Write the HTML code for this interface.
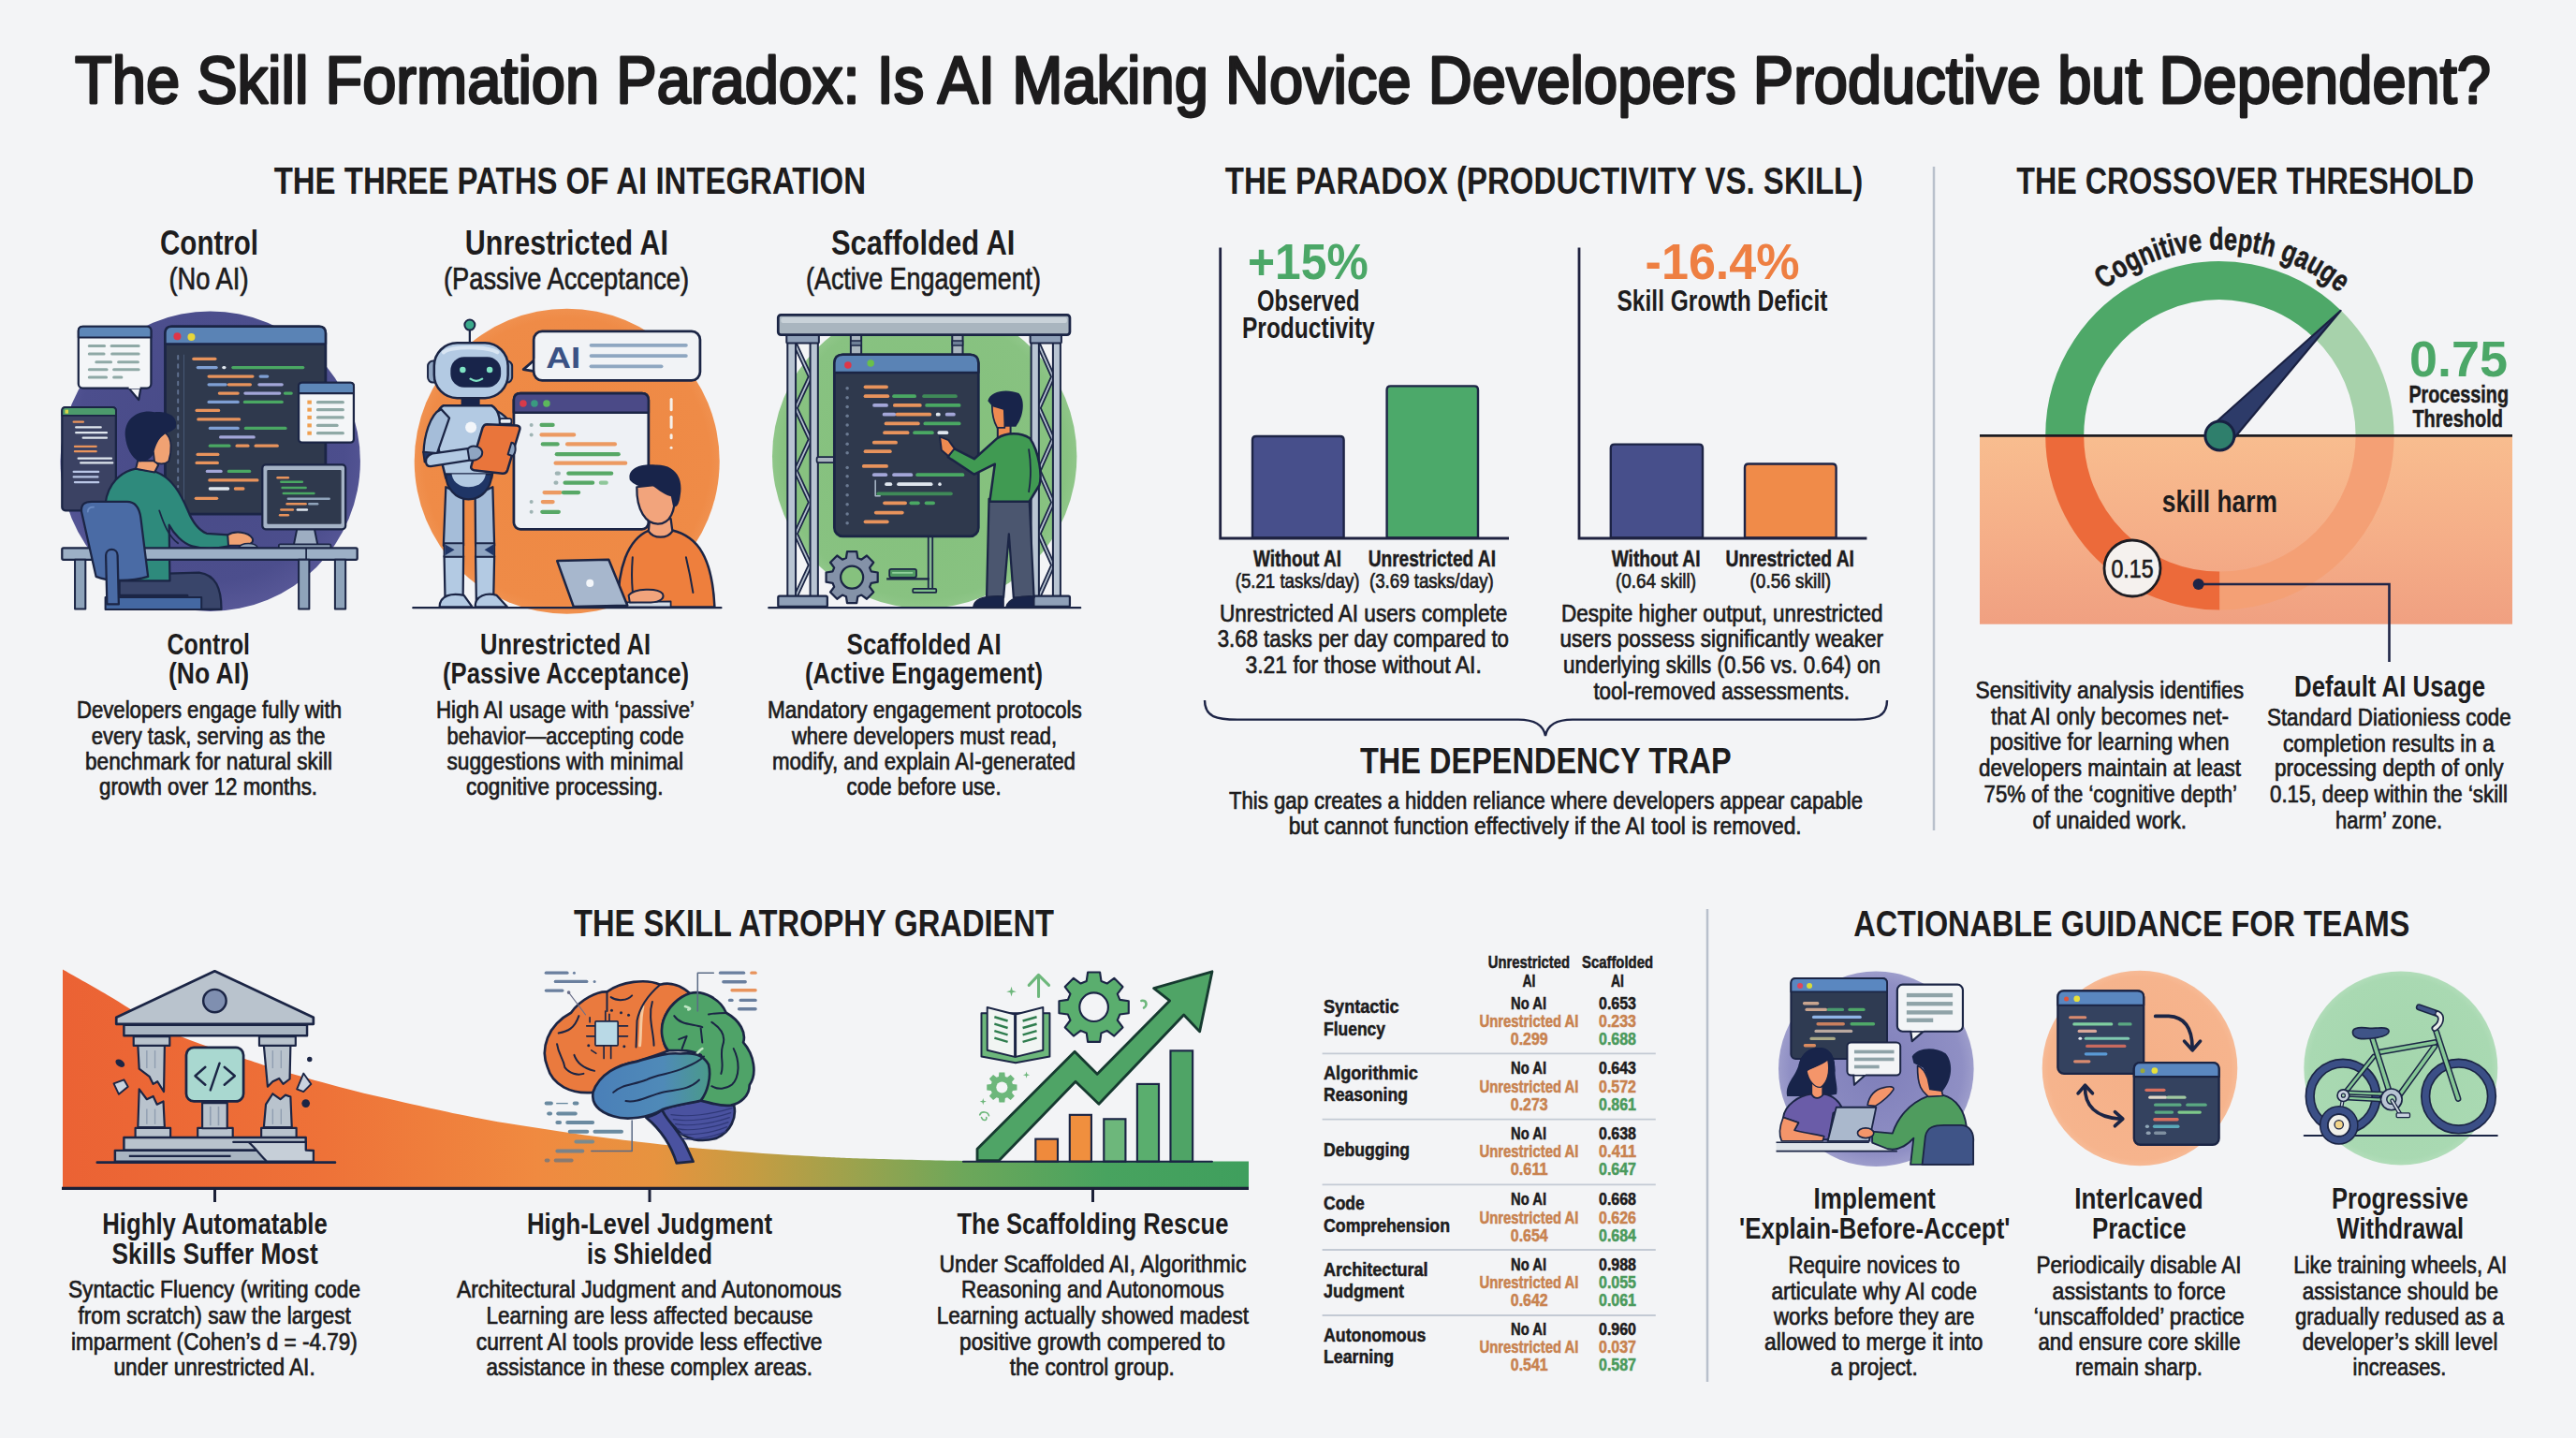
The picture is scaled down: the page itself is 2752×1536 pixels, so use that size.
<!DOCTYPE html>
<html lang="en"><head><meta charset="utf-8"><title>The Skill Formation Paradox</title>
<style>
html,body{margin:0;padding:0;background:#f3f4f6;}
body{width:2752px;height:1536px;overflow:hidden;}
svg{display:block;}
svg text{font-family:"Liberation Sans",sans-serif;}
</style></head><body>
<svg width="2752" height="1536" viewBox="0 0 2752 1536">
<rect width="2752" height="1536" fill="#f3f4f6"/>
<defs>
<linearGradient id="gWedge" gradientUnits="userSpaceOnUse" x1="67" y1="0" x2="1334" y2="0">
<stop offset="0" stop-color="#eb6234"/><stop offset="0.22" stop-color="#ee7238"/><stop offset="0.40" stop-color="#f08a40"/>
<stop offset="0.50" stop-color="#e7933f"/><stop offset="0.58" stop-color="#c69c42"/><stop offset="0.66" stop-color="#9fa24c"/>
<stop offset="0.76" stop-color="#6da75a"/><stop offset="0.88" stop-color="#48a35f"/><stop offset="1" stop-color="#3f9f5d"/>
</linearGradient>
<linearGradient id="gHarm" x1="0" y1="0" x2="0" y2="1">
<stop offset="0" stop-color="#f8bd8f"/><stop offset="0.55" stop-color="#f5ae88"/><stop offset="1" stop-color="#f0a081"/>
</linearGradient>
<radialGradient id="gC1" cx="0.5" cy="0.45" r="0.6"><stop offset="0" stop-color="#474a86"/><stop offset="0.75" stop-color="#4c4e8d"/><stop offset="1" stop-color="#5d5c9c"/></radialGradient>
<radialGradient id="gC2" cx="0.5" cy="0.5" r="0.55"><stop offset="0" stop-color="#ee8843"/><stop offset="0.85" stop-color="#ef8b47"/><stop offset="1" stop-color="#f29a5c"/></radialGradient>
<radialGradient id="gC3" cx="0.5" cy="0.5" r="0.55"><stop offset="0" stop-color="#83c07b"/><stop offset="0.85" stop-color="#88c281"/><stop offset="1" stop-color="#9bcd95"/></radialGradient>
<radialGradient id="gI1" cx="0.5" cy="0.5" r="0.55"><stop offset="0" stop-color="#7f7fba"/><stop offset="0.8" stop-color="#8f8fc4"/><stop offset="1" stop-color="#a9a9d2"/></radialGradient>
<radialGradient id="gI2" cx="0.5" cy="0.5" r="0.55"><stop offset="0" stop-color="#f5b088"/><stop offset="0.85" stop-color="#f6b48d"/><stop offset="1" stop-color="#f8c4a4"/></radialGradient>
<radialGradient id="gI3" cx="0.5" cy="0.5" r="0.55"><stop offset="0" stop-color="#a4d6ad"/><stop offset="0.85" stop-color="#a9d9b2"/><stop offset="1" stop-color="#bfe3c5"/></radialGradient>
<linearGradient id="gBlue" x1="0" y1="0" x2="1" y2="0"><stop offset="0" stop-color="#4a7fb8"/><stop offset="0.6" stop-color="#4f8ab8"/><stop offset="1" stop-color="#4a9a8a"/></linearGradient>
</defs>
<line x1="2066.0" y1="178.0" x2="2066.0" y2="887.0" stroke="#b9c0cc" stroke-width="2.5" stroke-linecap="butt"/>
<line x1="1824.0" y1="971.0" x2="1824.0" y2="1476.0" stroke="#b9c0cc" stroke-width="2.5" stroke-linecap="butt"/>
<path d="M67.0,1035.6 C75.0,1040.2 99.0,1053.6 115.0,1063.0 C131.0,1072.4 148.3,1084.0 163.0,1092.0 C177.7,1100.0 184.8,1103.9 203.0,1111.0 C221.2,1118.1 253.8,1128.5 272.0,1134.5 C290.2,1140.5 294.0,1141.8 312.0,1147.0 C330.0,1152.2 357.4,1159.8 380.0,1165.5 C402.6,1171.2 429.4,1176.9 447.6,1181.0 C465.8,1185.1 473.6,1186.9 489.0,1190.0 C504.4,1193.1 521.8,1196.5 540.0,1199.6 C558.2,1202.7 579.3,1205.8 598.0,1208.5 C616.7,1211.2 633.9,1213.7 652.0,1216.0 C670.1,1218.3 691.8,1220.8 706.5,1222.5 C721.2,1224.2 721.9,1224.4 740.0,1226.0 C758.1,1227.6 792.7,1230.4 815.0,1232.0 C837.3,1233.6 855.8,1234.5 874.0,1235.4 C892.2,1236.3 898.2,1236.7 924.0,1237.5 C949.8,1238.3 996.3,1239.5 1029.0,1240.0 C1061.7,1240.5 1069.2,1240.3 1120.0,1240.4 C1170.8,1240.5 1298.3,1240.4 1334.0,1240.4 L1334,1269 L67,1269 Z" fill="url(#gWedge)"/>
<line x1="66.0" y1="1269.3" x2="1334.0" y2="1269.3" stroke="#1b2038" stroke-width="3.2" stroke-linecap="butt"/>
<line x1="229.5" y1="1269.0" x2="229.5" y2="1284.0" stroke="#1b2038" stroke-width="3" stroke-linecap="butt"/>
<line x1="694.0" y1="1269.0" x2="694.0" y2="1284.0" stroke="#1b2038" stroke-width="3" stroke-linecap="butt"/>
<line x1="1167.5" y1="1269.0" x2="1167.5" y2="1284.0" stroke="#1b2038" stroke-width="3" stroke-linecap="butt"/>
<circle cx="224.7" cy="492.7" r="160.2" fill="url(#gC1)"/>
<g transform="translate(40,320) scale(0.25031)" stroke-linejoin="round" stroke-linecap="round">
<rect x="105.0" y="460.0" width="230.0" height="440.0" rx="14" fill="#3b4263" stroke="#1b2545" stroke-width="9"/>
<path d="M105,495 L105,474 Q105,460 119,460 L321,460 Q335,460 335,474 L335,495 Z" fill="#4c9a6c" stroke="#1b2545" stroke-width="7"/>
<rect x="118.0" y="470.0" width="14.0" height="16.0" fill="#d8d84a"/>
<rect x="150.0" y="517.5" width="50.0" height="9" rx="4.5" fill="#e8935c"/>
<rect x="160.0" y="540.5" width="115.0" height="9" rx="4.5" fill="#dfe6ee"/>
<rect x="160.0" y="563.5" width="140.0" height="9" rx="4.5" fill="#dfe6ee"/>
<rect x="190.0" y="585.5" width="110.0" height="9" rx="4.5" fill="#dfe6ee"/>
<rect x="155.0" y="622.5" width="100.0" height="9" rx="4.5" fill="#e8935c"/>
<rect x="155.0" y="643.5" width="100.0" height="9" rx="4.5" fill="#e8935c"/>
<rect x="170.0" y="673.5" width="150.0" height="9" rx="4.5" fill="#dfe6ee"/>
<rect x="180.0" y="692.5" width="145.0" height="9" rx="4.5" fill="#dfe6ee"/>
<rect x="150.0" y="730.5" width="115.0" height="9" rx="4.5" fill="#b9c6e6"/>
<rect x="150.0" y="752.5" width="112.0" height="9" rx="4.5" fill="#b9c6e6"/>
<rect x="155.0" y="775.5" width="110.0" height="9" rx="4.5" fill="#b9c6e6"/>
<polygon points="385.0,372.0 432.0,428.0 442.0,372.0" fill="#f4f6f8" stroke="#1b2545" stroke-width="9" stroke-linejoin="round"/>
<rect x="175.0" y="115.0" width="310.0" height="263.0" rx="18" fill="#f4f6f8" stroke="#1b2545" stroke-width="9"/>
<path d="M175,162 L175,133 Q175,115 193,115 L467,115 Q485,115 485,133 L485,162 Z" fill="#5d87b8" stroke="#1b2545" stroke-width="8"/>
<rect x="390.0" y="366.0" width="48.0" height="14.0" fill="#f4f6f8"/>
<rect x="215.0" y="192.0" width="77.0" height="12" rx="6.0" fill="#8fa9a6"/>
<rect x="310.0" y="192.0" width="128.0" height="12" rx="6.0" fill="#8fa9a6"/>
<rect x="215.0" y="226.0" width="75.0" height="12" rx="6.0" fill="#8fa9a6"/>
<rect x="312.0" y="226.0" width="126.0" height="12" rx="6.0" fill="#8fa9a6"/>
<rect x="245.0" y="261.0" width="75.0" height="12" rx="6.0" fill="#8fa9a6"/>
<rect x="340.0" y="261.0" width="95.0" height="12" rx="6.0" fill="#8fa9a6"/>
<rect x="215.0" y="293.0" width="87.0" height="12" rx="6.0" fill="#8fa9a6"/>
<rect x="320.0" y="293.0" width="118.0" height="12" rx="6.0" fill="#8fa9a6"/>
<rect x="215.0" y="326.0" width="85.0" height="12" rx="6.0" fill="#8fa9a6"/>
<rect x="320.0" y="326.0" width="45.0" height="12" rx="6.0" fill="#8fa9a6"/>
<rect x="545.0" y="115.0" width="685.0" height="800.0" rx="28" fill="#2f394d" stroke="#1b2545" stroke-width="11"/>
<path d="M545,190 L545,143 Q545,115 573,115 L1202,115 Q1230,115 1230,143 L1230,190 Z" fill="#5a83b5" stroke="#1b2545" stroke-width="10"/>
<circle cx="597.0" cy="157.0" r="16.0" fill="#df3648"/>
<circle cx="657.0" cy="160.0" r="16.0" fill="#e6d63a"/>
<line x1="600.0" y1="240.0" x2="600.0" y2="800.0" stroke="#5f6f8e" stroke-width="8" stroke-linecap="round" stroke-dasharray="14 23"/>
<line x1="625.0" y1="235.0" x2="625.0" y2="860.0" stroke="#4a5a78" stroke-width="4" stroke-linecap="butt"/>
<rect x="660.0" y="246.5" width="105.0" height="13" rx="6.5" fill="#e8935c"/>
<rect x="678.0" y="283.5" width="92.0" height="13" rx="6.5" fill="#7f9fd3"/>
<rect x="788.0" y="283.5" width="17.0" height="13" rx="6.5" fill="#dfe6ee"/>
<rect x="828.0" y="283.5" width="312.0" height="13" rx="6.5" fill="#4aa863"/>
<rect x="725.0" y="321.5" width="200.0" height="13" rx="6.5" fill="#e8935c"/>
<rect x="945.0" y="321.5" width="43.0" height="13" rx="6.5" fill="#7f9fd3"/>
<rect x="725.0" y="356.5" width="85.0" height="13" rx="6.5" fill="#7f9fd3"/>
<rect x="810.0" y="356.5" width="105.0" height="13" rx="6.5" fill="#e8935c"/>
<rect x="940.0" y="356.5" width="110.0" height="13" rx="6.5" fill="#a3a6d8"/>
<rect x="770.0" y="393.5" width="92.0" height="13" rx="6.5" fill="#e8935c"/>
<rect x="880.0" y="393.5" width="160.0" height="13" rx="6.5" fill="#a3a6d8"/>
<rect x="1050.0" y="393.5" width="40.0" height="13" rx="6.5" fill="#4aa863"/>
<rect x="725.0" y="430.5" width="137.0" height="13" rx="6.5" fill="#7f9fd3"/>
<rect x="878.0" y="430.5" width="172.0" height="13" rx="6.5" fill="#4aa863"/>
<rect x="673.0" y="466.5" width="107.0" height="13" rx="6.5" fill="#e8935c"/>
<rect x="680.0" y="504.5" width="188.0" height="13" rx="6.5" fill="#e8935c"/>
<rect x="730.0" y="542.5" width="132.0" height="13" rx="6.5" fill="#7f9fd3"/>
<rect x="882.0" y="542.5" width="183.0" height="13" rx="6.5" fill="#4aa863"/>
<rect x="775.0" y="580.5" width="155.0" height="13" rx="6.5" fill="#a3a6d8"/>
<rect x="730.0" y="617.5" width="95.0" height="13" rx="6.5" fill="#4aa863"/>
<rect x="845.0" y="617.5" width="60.0" height="13" rx="6.5" fill="#e8935c"/>
<rect x="925.0" y="617.5" width="105.0" height="13" rx="6.5" fill="#e8935c"/>
<rect x="677.0" y="654.5" width="100.0" height="13" rx="6.5" fill="#e8935c"/>
<rect x="673.0" y="690.5" width="102.0" height="13" rx="6.5" fill="#e8935c"/>
<rect x="718.0" y="726.5" width="72.0" height="13" rx="6.5" fill="#a3a6d8"/>
<rect x="810.0" y="726.5" width="102.0" height="13" rx="6.5" fill="#4aa863"/>
<rect x="728.0" y="764.5" width="217.0" height="13" rx="6.5" fill="#e8935c"/>
<rect x="730.0" y="800.5" width="90.0" height="13" rx="6.5" fill="#dfe6ee"/>
<rect x="838.0" y="800.5" width="47.0" height="13" rx="6.5" fill="#e8935c"/>
<rect x="670.0" y="841.5" width="102.0" height="13" rx="6.5" fill="#e8935c"/>
<rect x="1115.0" y="355.0" width="235.0" height="255.0" rx="14" fill="#f4f6f8" stroke="#1b2545" stroke-width="9"/>
<path d="M1115,400 L1115,369 Q1115,355 1129,355 L1336,355 Q1350,355 1350,369 L1350,400 Z" fill="#5d87b8" stroke="#1b2545" stroke-width="8"/>
<rect x="1152.0" y="430.0" width="18.0" height="16.0" fill="#f0a050"/>
<rect x="1190.0" y="431.5" width="120.0" height="13" rx="6.5" fill="#8fa9a6"/>
<rect x="1152.0" y="462.0" width="18.0" height="16.0" fill="#f0a050"/>
<rect x="1190.0" y="463.5" width="120.0" height="13" rx="6.5" fill="#8fa9a6"/>
<rect x="1152.0" y="495.0" width="18.0" height="16.0" fill="#f0a050"/>
<rect x="1190.0" y="496.5" width="120.0" height="13" rx="6.5" fill="#8fa9a6"/>
<rect x="1152.0" y="529.0" width="18.0" height="16.0" fill="#f0a050"/>
<rect x="1190.0" y="530.5" width="95.0" height="13" rx="6.5" fill="#8fa9a6"/>
<rect x="1152.0" y="562.0" width="18.0" height="16.0" fill="#f0a050"/>
<rect x="1190.0" y="563.5" width="120.0" height="13" rx="6.5" fill="#8fa9a6"/>
<polygon points="1108.0,978.0 1182.0,978.0 1197.0,1052.0 1093.0,1052.0" fill="#9dadc2" stroke="#1b2545" stroke-width="8" stroke-linejoin="round"/>
<rect x="1030.0" y="1044.0" width="222.0" height="18.0" rx="6" fill="#8ea0b6" stroke="#1b2545" stroke-width="7"/>
<rect x="960.0" y="705.0" width="355.0" height="275.0" rx="14" fill="#a5b3c6" stroke="#1b2545" stroke-width="9"/>
<rect x="980.0" y="727.0" width="317.0" height="231.0" rx="4" fill="#2f394d"/>
<rect x="1020.0" y="755.0" width="55.0" height="10" rx="5.0" fill="#e8935c"/>
<rect x="1035.0" y="773.0" width="100.0" height="10" rx="5.0" fill="#4aa863"/>
<rect x="1040.0" y="798.0" width="110.0" height="10" rx="5.0" fill="#4aa863"/>
<rect x="1045.0" y="822.0" width="140.0" height="10" rx="5.0" fill="#4aa863"/>
<rect x="1065.0" y="845.0" width="185.0" height="10" rx="5.0" fill="#8fa3ba"/>
<rect x="1060.0" y="867.0" width="90.0" height="10" rx="5.0" fill="#e8935c"/>
<rect x="1155.0" y="867.0" width="45.0" height="10" rx="5.0" fill="#8fa3ba"/>
<rect x="1035.0" y="892.0" width="60.0" height="10" rx="5.0" fill="#e8935c"/>
<rect x="1105.0" y="892.0" width="50.0" height="10" rx="5.0" fill="#dfe6ee"/>
<rect x="1030.0" y="915.0" width="45.0" height="10" rx="5.0" fill="#e8935c"/>
<path d="M350,1175 L690,1165 C760,1175 785,1230 785,1322 L645,1322 L640,1262 L350,1262 Z" fill="#39456a" stroke="#1b2545" stroke-width="9"/>
<path d="M290,870 C300,785 355,735 420,722 L505,735 C575,760 612,830 642,900 C662,950 690,985 722,998 L815,1004 L818,1052 C760,1064 700,1064 660,1052 C620,1040 582,1000 562,962 L565,1200 L300,1200 Z" fill="#2e8a7c" stroke="#1b2545" stroke-width="9"/>
<path d="M520,900 C540,960 560,1010 600,1040" fill="none" stroke="#1b2545" stroke-width="7"/>
<path d="M812,1004 C840,985 900,990 918,1020 C925,1040 900,1050 870,1050 L815,1050 Z" fill="#f0a273" stroke="#1b2545" stroke-width="8"/>
<path d="M860,1058 C870,1035 930,1035 940,1058 Z" fill="#8ea0b6" stroke="#1b2545" stroke-width="6"/>
<polygon points="428.0,688.0 502.0,688.0 516.0,706.0 500.0,737.0 420.0,722.0" fill="#f0a273" stroke="#1b2545" stroke-width="8" stroke-linejoin="round"/>
<path d="M545,568 C578,590 572,650 560,690 C540,706 515,702 500,692 L495,652 C478,642 484,610 500,610 C510,600 520,585 545,568 Z" fill="#f0a273" stroke="#1b2545" stroke-width="7"/>
<path d="M375,585 C368,508 430,468 500,480 C560,476 603,500 590,547 C575,562 560,566 545,570 C520,590 510,610 500,640 C495,672 470,692 435,692 C400,672 380,632 375,585 Z" fill="#18244a"/>
<rect x="105.0" y="1060.0" width="1260.0" height="50.0" rx="6" fill="#9cb0c6" stroke="#1b2545" stroke-width="9"/>
<line x1="1147.0" y1="1062.0" x2="1147.0" y2="1108.0" stroke="#1b2545" stroke-width="7" stroke-linecap="butt"/>
<rect x="160.0" y="1110.0" width="45.0" height="210.0" fill="#8ea3ba" stroke="#1b2545" stroke-width="8"/>
<rect x="1115.0" y="1110.0" width="45.0" height="210.0" fill="#8ea3ba" stroke="#1b2545" stroke-width="8"/>
<rect x="1270.0" y="1110.0" width="45.0" height="210.0" fill="#8ea3ba" stroke="#1b2545" stroke-width="8"/>
<path d="M188,905 C185,872 202,862 232,862 L382,862 C422,862 436,892 441,932 L472,1182 C402,1204 300,1204 250,1182 Z" fill="#4a6ba5" stroke="#1b2545" stroke-width="9"/>
<path d="M215,905 C215,890 225,885 240,885" fill="none" stroke="#6b8bc2" stroke-width="7"/>
<path d="M290,1270 L700,1270 L700,1322 L290,1322 Z" fill="#4468a2" stroke="#1b2545" stroke-width="8"/>
<path d="M292,1092 C292,1058 342,1058 342,1092 L347,1300 L297,1300 Z" fill="#4a6ba5" stroke="#1b2545" stroke-width="9"/>
</g>
<circle cx="605.7" cy="492.7" r="163.0" fill="url(#gC2)"/>
<g transform="translate(420,320) scale(0.25031)" stroke-linejoin="round" stroke-linecap="round">
<line x1="1187.0" y1="425.0" x2="1187.0" y2="470.0" stroke="#f6f1ea" stroke-width="12" stroke-linecap="round"/>
<line x1="1187.0" y1="500.0" x2="1187.0" y2="545.0" stroke="#f6f1ea" stroke-width="12" stroke-linecap="round"/>
<line x1="1187.0" y1="578.0" x2="1187.0" y2="590.0" stroke="#f6f1ea" stroke-width="12" stroke-linecap="round"/>
<circle cx="1187.0" cy="632.0" r="6.0" fill="#f6f1ea"/>
<polygon points="612.0,250.0 556.0,298.0 615.0,308.0" fill="#f1f3f6" stroke="#1b2545" stroke-width="11" stroke-linejoin="round"/>
<rect x="600.0" y="135.0" width="710.0" height="210.0" rx="36" fill="#f1f3f6" stroke="#1b2545" stroke-width="11"/>
<rect x="606.0" y="252.0" width="20.0" height="52.0" fill="#f1f3f6"/>
<text x="652" y="290" font-size="128" font-weight="bold" fill="#3b5284" textLength="148" lengthAdjust="spacingAndGlyphs">AI</text>
<line x1="845.0" y1="195.0" x2="1250.0" y2="195.0" stroke="#8fa7c1" stroke-width="15" stroke-linecap="round"/>
<line x1="845.0" y1="240.0" x2="1250.0" y2="240.0" stroke="#8fa7c1" stroke-width="15" stroke-linecap="round"/>
<line x1="845.0" y1="285.0" x2="1145.0" y2="285.0" stroke="#8fa7c1" stroke-width="15" stroke-linecap="round"/>
<rect x="515.0" y="400.0" width="575.0" height="580.0" rx="28" fill="#eef1f5" stroke="#1b2545" stroke-width="11"/>
<path d="M515,482 L515,428 Q515,400 543,400 L1062,400 Q1090,400 1090,428 L1090,482 Z" fill="#4b4a87" stroke="#1b2545" stroke-width="10"/>
<circle cx="555.0" cy="443.0" r="15.0" fill="#d93a4a"/>
<circle cx="603.0" cy="443.0" r="15.0" fill="#3a9a80"/>
<circle cx="655.0" cy="443.0" r="15.0" fill="#5cb85c"/>
<rect x="625.0" y="526.5" width="65.0" height="17" rx="8.5" fill="#57a866"/>
<rect x="625.0" y="568.5" width="155.0" height="17" rx="8.5" fill="#ec9a62"/>
<rect x="630.0" y="608.5" width="80.0" height="17" rx="8.5" fill="#57a866"/>
<rect x="735.0" y="608.5" width="220.0" height="17" rx="8.5" fill="#ec9a62"/>
<rect x="690.0" y="651.5" width="280.0" height="17" rx="8.5" fill="#57a866"/>
<rect x="685.0" y="689.5" width="315.0" height="17" rx="8.5" fill="#ec9a62"/>
<rect x="690.0" y="733.5" width="25.0" height="17" rx="8.5" fill="#9fb4b4"/>
<rect x="740.0" y="733.5" width="200.0" height="17" rx="8.5" fill="#57a866"/>
<rect x="685.0" y="773.5" width="20.0" height="17" rx="8.5" fill="#9fb4b4"/>
<rect x="725.0" y="773.5" width="135.0" height="17" rx="8.5" fill="#57a866"/>
<rect x="878.0" y="773.5" width="40.0" height="17" rx="8.5" fill="#8fc79a"/>
<rect x="637.0" y="814.5" width="85.0" height="17" rx="8.5" fill="#ec9a62"/>
<rect x="718.0" y="814.5" width="82.0" height="17" rx="8.5" fill="#57a866"/>
<rect x="630.0" y="854.5" width="60.0" height="17" rx="8.5" fill="#ec9a62"/>
<rect x="628.0" y="897.5" width="87.0" height="17" rx="8.5" fill="#57a866"/>
<circle cx="590.0" cy="535.0" r="8.0" fill="#9fb4b4"/>
<circle cx="590.0" cy="577.0" r="8.0" fill="#9fb4b4"/>
<circle cx="590.0" cy="863.0" r="8.0" fill="#9fb4b4"/>
<circle cx="590.0" cy="906.0" r="8.0" fill="#9fb4b4"/>
<polygon points="225.0,800.0 300.0,835.0 300.0,1050.0 215.0,1050.0" fill="#a5bdd9" stroke="#1b2545" stroke-width="9" stroke-linejoin="round"/>
<polygon points="350.0,835.0 425.0,800.0 432.0,1050.0 352.0,1050.0" fill="#a5bdd9" stroke="#1b2545" stroke-width="9" stroke-linejoin="round"/>
<polygon points="218.0,1095.0 300.0,1095.0 298.0,1290.0 222.0,1290.0" fill="#b3cae3" stroke="#1b2545" stroke-width="9" stroke-linejoin="round"/>
<polygon points="352.0,1095.0 432.0,1095.0 428.0,1290.0 355.0,1290.0" fill="#b3cae3" stroke="#1b2545" stroke-width="9" stroke-linejoin="round"/>
<polygon points="218.0,1040.0 300.0,1040.0 300.0,1098.0 218.0,1098.0" fill="#8fa5c2" stroke="#1b2545" stroke-width="8" stroke-linejoin="round"/>
<polygon points="352.0,1040.0 432.0,1040.0 432.0,1098.0 352.0,1098.0" fill="#8fa5c2" stroke="#1b2545" stroke-width="8" stroke-linejoin="round"/>
<polygon points="222.0,1045.0 262.0,1068.0 222.0,1092.0" fill="#1f3566"/>
<polygon points="428.0,1045.0 390.0,1068.0 428.0,1092.0" fill="#1f3566"/>
<path d="M198,1312 C198,1262 250,1250 302,1262 L338,1312 Z" fill="#b3cae3" stroke="#1b2545" stroke-width="9"/>
<path d="M350,1312 C350,1262 400,1250 442,1262 L488,1312 Z" fill="#b3cae3" stroke="#1b2545" stroke-width="9"/>
<path d="M425,470 C470,480 500,520 520,560 L470,600 L430,540 Z" fill="#a5bdd9" stroke="#1b2545" stroke-width="9"/>
<path d="M215,452 C180,472 173,522 185,602 L225,762 L420,762 L450,602 C462,522 457,472 420,452 Z" fill="#b3cae3" stroke="#1b2545" stroke-width="10"/>
<path d="M225,745 L420,745 C420,802 380,852 322,852 C265,852 225,802 225,745 Z" fill="#1f3566" stroke="#1b2545" stroke-width="9"/>
<path d="M250,745 L395,745 C390,780 360,800 322,800 C285,800 255,780 250,745 Z" fill="#b3cae3"/>
<circle cx="332.0" cy="545.0" r="24.0" fill="#f3f6fa"/>
<rect x="290.0" y="412.0" width="80.0" height="42.0" fill="#18244a"/>
<path d="M400,532 L528,537 Q545,540 540,556 L488,728 Q482,744 466,742 L345,728 Q328,724 334,708 L382,546 Q388,532 400,532 Z" fill="#e9753b" stroke="#1b2545" stroke-width="10"/>
<rect x="455.0" y="508.0" width="50.0" height="22.0" rx="8" fill="#e8eef5" stroke="#1b2545" stroke-width="7"/>
<path d="M205,468 C155,488 132,590 130,652 L185,664 L240,505 Z" fill="#a5bdd9" stroke="#1b2545" stroke-width="9"/>
<polygon points="128.0,650.0 188.0,655.0 184.0,700.0 134.0,694.0" fill="#1f3566" stroke="#1b2545" stroke-width="7" stroke-linejoin="round"/>
<path d="M140,690 C140,668 160,655 185,655 L345,632 L352,682 L160,712 C145,712 140,702 140,690 Z" fill="#b3cae3" stroke="#1b2545" stroke-width="9"/>
<path d="M318,640 C330,618 372,622 380,648 C384,675 350,692 325,684 Z" fill="#8fa5c2" stroke="#1b2545" stroke-width="8"/>
<path d="M505,610 C525,612 528,650 510,668 L490,660 Z" fill="#8fa5c2" stroke="#1b2545" stroke-width="8"/>
<line x1="327.0" y1="190.0" x2="327.0" y2="128.0" stroke="#1b2545" stroke-width="9" stroke-linecap="butt"/>
<circle cx="327.0" cy="108.0" r="22.0" fill="#3aa98b" stroke="#1b2545" stroke-width="8"/>
<rect x="148.0" y="262.0" width="58.0" height="92.0" rx="22" fill="#8fa5c2" stroke="#1b2545" stroke-width="8"/>
<rect x="458.0" y="262.0" width="50.0" height="92.0" rx="22" fill="#8fa5c2" stroke="#1b2545" stroke-width="8"/>
<rect x="175.0" y="185.0" width="315.0" height="235.0" rx="98" fill="#b3cae3" stroke="#1b2545" stroke-width="10"/>
<path d="M215,225 C250,198 400,198 445,225" fill="none" stroke="#d8e5f3" stroke-width="16"/>
<rect x="245.0" y="245.0" width="215.0" height="130.0" rx="58" fill="#18244a"/>
<circle cx="297.0" cy="300.0" r="13.0" fill="#7fe3c4"/>
<circle cx="412.0" cy="300.0" r="13.0" fill="#7fe3c4"/>
<path d="M330,338 Q355,356 380,338" fill="none" stroke="#7fe3c4" stroke-width="9"/>
<path d="M960,1312 C958,1150 1000,1022 1092,985 L1192,985 C1302,1012 1362,1102 1372,1312 Z" fill="#ee7f3d" stroke="#1b2545" stroke-width="10"/>
<path d="M1022,1100 C1018,1150 1018,1200 1022,1245" fill="none" stroke="#1b2545" stroke-width="8"/>
<path d="M1250,1100 C1262,1150 1272,1200 1280,1250" fill="none" stroke="#1b2545" stroke-width="8"/>
<path d="M1095,935 L1185,935 L1192,988 C1170,1022 1112,1022 1090,988 Z" fill="#f2a47c" stroke="#1b2545" stroke-width="9"/>
<path d="M1040,800 C1038,900 1080,957 1130,957 C1182,957 1207,900 1200,828 L1150,788 Z" fill="#f2a47c" stroke="#1b2545" stroke-width="9"/>
<path d="M1010,770 C998,718 1060,698 1120,705 C1202,703 1238,760 1226,832 C1222,872 1210,892 1194,880 L1186,840 C1150,830 1120,802 1100,790 C1070,802 1040,802 1010,770 Z" fill="#18244a"/>
<polygon points="998.0,1292.0 1185.0,1288.0 1185.0,1312.0 998.0,1312.0" fill="#d3dbe6" stroke="#1b2545" stroke-width="7" stroke-linejoin="round"/>
<path d="M1005,1262 C1030,1232 1130,1230 1150,1255 C1160,1275 1140,1290 1100,1292 L1010,1292 Z" fill="#f2a47c" stroke="#1b2545" stroke-width="8"/>
<polygon points="700.0,1115.0 920.0,1110.0 1000.0,1305.0 770.0,1310.0" fill="#a7b7cd" stroke="#1b2545" stroke-width="10" stroke-linejoin="round"/>
<circle cx="840.0" cy="1210.0" r="16.0" fill="#f3f6fa"/>
<line x1="85.0" y1="1315.0" x2="1400.0" y2="1315.0" stroke="#1b2545" stroke-width="9" stroke-linecap="round"/>
</g>
<clipPath id="cp3"><rect x="800" y="357" width="400" height="292"/></clipPath>
<circle cx="987.7" cy="487.2" r="162.7" fill="url(#gC3)" clip-path="url(#cp3)"/>
<g transform="translate(800,320) scale(0.25031)" stroke-linejoin="round" stroke-linecap="round">
<path d="M200,195 L262,329 L200,463 L262,597 L200,731 L262,865 L200,999 L262,1133 L200,1267" fill="none" stroke="#1b2545" stroke-width="21"/>
<path d="M200,195 L262,329 L200,463 L262,597 L200,731 L262,865 L200,999 L262,1133 L200,1267" fill="none" stroke="#b4c0ce" stroke-width="7"/>
<rect x="165.0" y="150.0" width="35.0" height="1120.0" fill="#b9c5d3" stroke="#1b2545" stroke-width="8"/>
<rect x="262.0" y="150.0" width="33.0" height="1120.0" fill="#b9c5d3" stroke="#1b2545" stroke-width="8"/>
<rect x="161.0" y="150.0" width="138.0" height="36.0" rx="4" fill="#8fa0b8" stroke="#1b2545" stroke-width="8"/>
<path d="M1238,195 L1298,329 L1238,463 L1298,597 L1238,731 L1298,865 L1238,999 L1298,1133 L1238,1267" fill="none" stroke="#1b2545" stroke-width="21"/>
<path d="M1238,195 L1298,329 L1238,463 L1298,597 L1238,731 L1298,865 L1238,999 L1298,1133 L1238,1267" fill="none" stroke="#b4c0ce" stroke-width="7"/>
<rect x="1205.0" y="150.0" width="33.0" height="1120.0" fill="#b9c5d3" stroke="#1b2545" stroke-width="8"/>
<rect x="1298.0" y="150.0" width="32.0" height="1120.0" fill="#b9c5d3" stroke="#1b2545" stroke-width="8"/>
<rect x="1201.0" y="150.0" width="133.0" height="36.0" rx="4" fill="#8fa0b8" stroke="#1b2545" stroke-width="8"/>
<rect x="125.0" y="1265.0" width="210.0" height="45.0" rx="6" fill="#8fa0b8" stroke="#1b2545" stroke-width="9"/>
<rect x="1215.0" y="1265.0" width="155.0" height="45.0" rx="6" fill="#8fa0b8" stroke="#1b2545" stroke-width="9"/>
<rect x="435.0" y="150.0" width="45.0" height="88.0" rx="4" fill="#a9b5bf" stroke="#1b2545" stroke-width="8"/>
<rect x="435.0" y="176.0" width="45.0" height="20.0" fill="#6f8098" stroke="#1b2545" stroke-width="6"/>
<rect x="868.0" y="150.0" width="45.0" height="88.0" rx="4" fill="#a9b5bf" stroke="#1b2545" stroke-width="8"/>
<rect x="868.0" y="176.0" width="45.0" height="20.0" fill="#6f8098" stroke="#1b2545" stroke-width="6"/>
<rect x="125.0" y="65.0" width="1245.0" height="85.0" rx="12" fill="#a9b5bf" stroke="#1b2545" stroke-width="11"/>
<rect x="137.0" y="76.0" width="1221.0" height="24.0" rx="8" fill="#c9d2d9"/>
<rect x="290.0" y="672.0" width="78.0" height="24.0" rx="8" fill="#a9b5bf" stroke="#1b2545" stroke-width="7"/>
<rect x="766.0" y="1000.0" width="18.0" height="236.0" rx="4" fill="#86b892" stroke="#1b2545" stroke-width="7"/>
<circle cx="775.0" cy="995.0" r="14.0" fill="#d0d8e4" stroke="#1b2545" stroke-width="7"/>
<rect x="700.0" y="1234.0" width="100.0" height="16.0" rx="4" fill="#7fc08a" stroke="#1b2545" stroke-width="7"/>
<line x1="588.0" y1="1192.0" x2="770.0" y2="1192.0" stroke="#1b2545" stroke-width="9" stroke-linecap="butt"/>
<rect x="600.0" y="1150.0" width="115.0" height="36.0" rx="8" fill="#4f9a62" stroke="#1b2545" stroke-width="7"/>
<line x1="612.0" y1="1166.0" x2="700.0" y2="1166.0" stroke="#8fd09a" stroke-width="7" stroke-linecap="butt"/>
<rect x="365.0" y="235.0" width="615.0" height="775.0" rx="36" fill="#2f394d" stroke="#1b2545" stroke-width="11"/>
<path d="M365,312 L365,271 Q365,235 401,235 L944,235 Q980,235 980,271 L980,312 Z" fill="#5a83b5" stroke="#1b2545" stroke-width="10"/>
<circle cx="423.0" cy="280.0" r="15.0" fill="#df3648"/>
<circle cx="520.0" cy="272.0" r="15.0" fill="#6ac04a"/>
<rect x="490.0" y="365.5" width="105.0" height="15" rx="7.5" fill="#e8935c"/>
<circle cx="420.0" cy="379.0" r="7.0" fill="#6b7a92"/>
<rect x="490.0" y="404.5" width="110.0" height="15" rx="7.5" fill="#e8935c"/>
<rect x="612.0" y="404.5" width="103.0" height="15" rx="7.5" fill="#4aa863"/>
<rect x="740.0" y="404.5" width="150.0" height="15" rx="7.5" fill="#3f8a58"/>
<circle cx="420.0" cy="418.0" r="7.0" fill="#6b7a92"/>
<rect x="528.0" y="443.5" width="67.0" height="15" rx="7.5" fill="#a3a6d8"/>
<rect x="615.0" y="443.5" width="123.0" height="15" rx="7.5" fill="#e8935c"/>
<rect x="752.0" y="443.5" width="153.0" height="15" rx="7.5" fill="#4aa863"/>
<circle cx="420.0" cy="457.0" r="7.0" fill="#6b7a92"/>
<rect x="570.0" y="482.5" width="58.0" height="15" rx="7.5" fill="#a3a6d8"/>
<rect x="626.0" y="482.5" width="154.0" height="15" rx="7.5" fill="#e8935c"/>
<rect x="798.0" y="482.5" width="20.0" height="15" rx="7.5" fill="#dfe6ee"/>
<rect x="838.0" y="482.5" width="44.0" height="15" rx="7.5" fill="#a3a6d8"/>
<circle cx="420.0" cy="496.0" r="7.0" fill="#6b7a92"/>
<rect x="578.0" y="521.5" width="152.0" height="15" rx="7.5" fill="#e8935c"/>
<rect x="745.0" y="521.5" width="160.0" height="15" rx="7.5" fill="#4aa863"/>
<circle cx="420.0" cy="535.0" r="7.0" fill="#6b7a92"/>
<rect x="572.0" y="560.5" width="113.0" height="15" rx="7.5" fill="#e8935c"/>
<rect x="700.0" y="560.5" width="90.0" height="15" rx="7.5" fill="#4aa863"/>
<rect x="805.0" y="560.5" width="47.0" height="15" rx="7.5" fill="#dfe6ee"/>
<circle cx="420.0" cy="574.0" r="7.0" fill="#6b7a92"/>
<rect x="527.0" y="602.5" width="108.0" height="15" rx="7.5" fill="#e8935c"/>
<circle cx="420.0" cy="616.0" r="7.0" fill="#6b7a92"/>
<rect x="490.0" y="640.5" width="120.0" height="15" rx="7.5" fill="#e8935c"/>
<circle cx="420.0" cy="654.0" r="7.0" fill="#6b7a92"/>
<rect x="483.0" y="703.5" width="112.0" height="15" rx="7.5" fill="#e8935c"/>
<circle cx="420.0" cy="717.0" r="7.0" fill="#6b7a92"/>
<rect x="527.0" y="740.5" width="65.0" height="15" rx="7.5" fill="#a3a6d8"/>
<rect x="612.0" y="740.5" width="88.0" height="15" rx="7.5" fill="#a3a6d8"/>
<rect x="712.0" y="740.5" width="208.0" height="15" rx="7.5" fill="#4aa863"/>
<circle cx="420.0" cy="754.0" r="7.0" fill="#6b7a92"/>
<rect x="580.0" y="780.5" width="32.0" height="15" rx="7.5" fill="#dfe6ee"/>
<rect x="632.0" y="780.5" width="153.0" height="15" rx="7.5" fill="#dfe6ee"/>
<rect x="808.0" y="780.5" width="14.0" height="15" rx="7.5" fill="#dfe6ee"/>
<circle cx="420.0" cy="794.0" r="7.0" fill="#6b7a92"/>
<rect x="545.0" y="820.5" width="325.0" height="15" rx="7.5" fill="#3f8a58"/>
<circle cx="420.0" cy="834.0" r="7.0" fill="#6b7a92"/>
<rect x="572.0" y="860.5" width="103.0" height="15" rx="7.5" fill="#e8935c"/>
<rect x="685.0" y="860.5" width="45.0" height="15" rx="7.5" fill="#4aa863"/>
<rect x="750.0" y="860.5" width="45.0" height="15" rx="7.5" fill="#4aa863"/>
<circle cx="420.0" cy="874.0" r="7.0" fill="#6b7a92"/>
<rect x="535.0" y="901.5" width="127.0" height="15" rx="7.5" fill="#e8935c"/>
<circle cx="420.0" cy="915.0" r="7.0" fill="#6b7a92"/>
<rect x="490.0" y="940.5" width="108.0" height="15" rx="7.5" fill="#e8935c"/>
<circle cx="420.0" cy="954.0" r="7.0" fill="#6b7a92"/>
<path d="M540,772 L540,838 L560,838" fill="none" stroke="#aebccc" stroke-width="6"/>
<path d="M1025,850 L1197,850 L1217,1272 L1130,1272 L1110,1000 L1087,1272 L1015,1272 Z" fill="#4b566f" stroke="#1b2545" stroke-width="9"/>
<path d="M958,1312 C962,1275 1010,1262 1087,1266 L1087,1312 Z" fill="#18244a" stroke="#1b2545" stroke-width="6"/>
<path d="M1098,1312 C1108,1275 1160,1262 1217,1266 L1217,1312 Z" fill="#18244a" stroke="#1b2545" stroke-width="6"/>
<rect x="1062.0" y="525.0" width="55.0" height="70.0" fill="#ee8a50" stroke="#1b2545" stroke-width="8"/>
<path d="M1060,592 C1100,566 1160,566 1200,592 C1240,652 1252,752 1240,792 L1197,862 L1028,862 L1050,702 L962,746 L850,672 L872,634 L962,680 Z" fill="#409a52" stroke="#1b2545" stroke-width="10"/>
<path d="M1195,640 C1205,700 1205,760 1195,820" fill="none" stroke="#1b2545" stroke-width="7"/>
<polygon points="815.0,585.0 852.0,600.0 878.0,636.0 852.0,668.0 822.0,642.0" fill="#ee8a50" stroke="#1b2545" stroke-width="8" stroke-linejoin="round"/>
<path d="M1038,450 L1092,450 L1092,547 L1060,547 C1045,520 1038,490 1038,450 Z" fill="#ee8a50" stroke="#1b2545" stroke-width="7"/>
<path d="M1020,432 C1030,390 1100,378 1152,400 C1182,430 1172,502 1140,542 L1092,542 L1086,470 L1040,456 Z" fill="#18244a"/>
<path d="M522.4,1160.3 L550.1,1164.6 L550.1,1205.4 L522.4,1209.7 L515.7,1225.8 L532.3,1248.4 L503.4,1277.3 L480.8,1260.7 L464.7,1267.4 L460.4,1295.1 L419.6,1295.1 L415.3,1267.4 L399.2,1260.7 L376.6,1277.3 L347.7,1248.4 L364.3,1225.8 L357.6,1209.7 L329.9,1205.4 L329.9,1164.6 L357.6,1160.3 L364.3,1144.2 L347.7,1121.6 L376.6,1092.7 L399.2,1109.3 L415.3,1102.6 L419.6,1074.9 L460.4,1074.9 L464.7,1102.6 L480.8,1109.3 L503.4,1092.7 L532.3,1121.6 L515.7,1144.2 Z" fill="#8492a8" stroke="#1b2545" stroke-width="9"/>
<circle cx="440.0" cy="1185.0" r="48.0" fill="#86c17e" stroke="#1b2545" stroke-width="9"/>
<line x1="85.0" y1="1315.0" x2="1415.0" y2="1315.0" stroke="#1b2545" stroke-width="9" stroke-linecap="round"/>
</g>
<path d="M1338,574.5 L1338,470 Q1338,466 1342,466 L1431.6,466 Q1435.6,466 1435.6,470 L1435.6,574.5 Z" fill="#474f8b" stroke="#1d2446" stroke-width="2.4"/>
<path d="M1481.6,574.5 L1481.6,416.4 Q1481.6,412.4 1485.6,412.4 L1575,412.4 Q1579,412.4 1579,416.4 L1579,574.5 Z" fill="#4ca96a" stroke="#1d2446" stroke-width="2.4"/>
<path d="M1303.7,264.5 L1303.7,575 L1612,575" fill="none" stroke="#1f2240" stroke-width="2.8"/>
<path d="M1720.8,574.5 L1720.8,478.6 Q1720.8,474.6 1724.8,474.6 L1815,474.6 Q1819,474.6 1819,478.6 L1819,574.5 Z" fill="#474f8b" stroke="#1d2446" stroke-width="2.4"/>
<path d="M1864,574.5 L1864,499.5 Q1864,495.5 1868,495.5 L1957.6,495.5 Q1961.6,495.5 1961.6,499.5 L1961.6,574.5 Z" fill="#f08b49" stroke="#1d2446" stroke-width="2.4"/>
<path d="M1687,264.5 L1687,575 L1994.4,575" fill="none" stroke="#1f2240" stroke-width="2.8"/>
<path d="M1287,748 C1287,766 1300,768.6 1322,768.6 L1622,768.6 C1640,768.6 1649,775 1651,786 C1653,775 1662,768.6 1680,768.6 L1982,768.6 C2004,768.6 2016,766 2016,748" fill="none" stroke="#1d2446" stroke-width="2.4"/>
<rect x="2115.0" y="465.4" width="569.0" height="201.3" fill="url(#gHarm)"/>
<path d="M2205.7,465.4 A165.7,165.7 0 0 1 2486.5,346.2" fill="none" stroke="#4ea868" stroke-width="41"/>
<path d="M2486.1,345.8 A165.7,165.7 0 0 1 2537.1,465.4" fill="none" stroke="#a7d2ab" stroke-width="41"/>
<path d="M2205.7,465.4 A165.7,165.7 0 0 0 2371.4,631.1" fill="none" stroke="#ec6a3a" stroke-width="41"/>
<path d="M2371.4,631.1 A165.7,165.7 0 0 0 2537.1,465.4" fill="none" stroke="#f4a075" stroke-width="41"/>
<line x1="2115.0" y1="465.4" x2="2684.0" y2="465.4" stroke="#1d1c22" stroke-width="2.8" stroke-linecap="butt"/>
<polygon points="2381.1,474.8 2500.6,331.8 2361.7,456.0" fill="#2d3b69" stroke="#1a2142" stroke-width="2.2" stroke-linejoin="round"/>
<circle cx="2371.4" cy="465.4" r="15.5" fill="#2f7f6c" stroke="#172142" stroke-width="3"/>
<circle cx="2278.0" cy="607.0" r="30.0" fill="#f5f1ee" stroke="#1d1c22" stroke-width="2.8"/>
<circle cx="2348.7" cy="624.0" r="6.0" fill="#1f2547"/>
<path d="M2348.7,624 L2552.5,624 L2552.5,707" fill="none" stroke="#1f2547" stroke-width="2.6"/>
<path id="gArc" d="M2199.1,365.9 A199,199 0 0 1 2543.7,365.9" fill="none"/>
<text font-size="33" font-weight="bold" fill="#1d1c1d" stroke="#1d1c1d" stroke-width="0.6" textLength="272" lengthAdjust="spacingAndGlyphs"><textPath href="#gArc" startOffset="75" textLength="272" lengthAdjust="spacingAndGlyphs">Cognitive depth gauge</textPath></text>
<line x1="1412.6" y1="1125.3" x2="1768.8" y2="1125.3" stroke="#c3cad4" stroke-width="1.8" stroke-linecap="butt"/>
<line x1="1412.6" y1="1195.6" x2="1768.8" y2="1195.6" stroke="#c3cad4" stroke-width="1.8" stroke-linecap="butt"/>
<line x1="1412.6" y1="1265.3" x2="1768.8" y2="1265.3" stroke="#c3cad4" stroke-width="1.8" stroke-linecap="butt"/>
<line x1="1412.6" y1="1335.0" x2="1768.8" y2="1335.0" stroke="#c3cad4" stroke-width="1.8" stroke-linecap="butt"/>
<line x1="1412.6" y1="1405.0" x2="1768.8" y2="1405.0" stroke="#c3cad4" stroke-width="1.8" stroke-linecap="butt"/>
<g transform="translate(40,940) scale(0.27174)" stroke-linejoin="round" stroke-linecap="round">
<line x1="235.0" y1="1110.0" x2="1170.0" y2="1110.0" stroke="#1b2545" stroke-width="10" stroke-linecap="round"/>
<rect x="305.0" y="1063.0" width="780.0" height="44.0" fill="#a9b5c2" stroke="#1b2545" stroke-width="9"/>
<rect x="340.0" y="1012.0" width="715.0" height="50.0" fill="#b9c3cd" stroke="#1b2545" stroke-width="9"/>
<path d="M770,1030 L830,1030 C862,1058 880,1088 902,1106 L1085,1106 L1085,1064 L1055,1062 L1055,1030 Z" fill="#c6cfd8" stroke="#1b2545" stroke-width="8"/>
<line x1="360.0" y1="1085.0" x2="760.0" y2="1085.0" stroke="#1b2545" stroke-width="8" stroke-linecap="butt"/>
<rect x="385.0" y="975.0" width="138.0" height="36.0" fill="#b9c3cd" stroke="#1b2545" stroke-width="8"/>
<rect x="630.0" y="975.0" width="138.0" height="36.0" fill="#b9c3cd" stroke="#1b2545" stroke-width="8"/>
<rect x="880.0" y="975.0" width="138.0" height="36.0" fill="#b9c3cd" stroke="#1b2545" stroke-width="8"/>
<rect x="648.0" y="876.0" width="98.0" height="100.0" fill="#b9c3cd" stroke="#1b2545" stroke-width="8"/>
<line x1="680.0" y1="890.0" x2="680.0" y2="965.0" stroke="#8f9db0" stroke-width="6" stroke-linecap="butt"/>
<line x1="712.0" y1="890.0" x2="712.0" y2="965.0" stroke="#8f9db0" stroke-width="6" stroke-linecap="butt"/>
<rect x="585.0" y="658.0" width="225.0" height="212.0" rx="30" fill="#a9d8d0" stroke="#1b2545" stroke-width="10"/>
<path d="M660,735 L620,770 L660,805 M716,720 L680,826 M735,735 L776,770 L735,805" fill="none" stroke="#1b2545" stroke-width="9"/>
<path d="M395,650 L500,650 L497,832 L472,792 L455,802 L440,772 L400,742 Z" fill="#b9c3cd" stroke="#1b2545" stroke-width="8"/>
<path d="M400,822 L430,862 L455,850 L470,882 L495,870 L500,972 L395,972 Z" fill="#b9c3cd" stroke="#1b2545" stroke-width="8"/>
<path d="M890,650 L995,650 L992,782 L966,802 L950,780 L925,792 L905,812 Z" fill="#b9c3cd" stroke="#1b2545" stroke-width="8"/>
<path d="M898,882 L925,840 L955,862 L975,845 L995,852 L1000,972 L890,972 Z" fill="#b9c3cd" stroke="#1b2545" stroke-width="8"/>
<line x1="430.0" y1="670.0" x2="430.0" y2="740.0" stroke="#8f9db0" stroke-width="5" stroke-linecap="butt"/>
<line x1="430.0" y1="900.0" x2="430.0" y2="960.0" stroke="#8f9db0" stroke-width="5" stroke-linecap="butt"/>
<line x1="462.0" y1="670.0" x2="462.0" y2="740.0" stroke="#8f9db0" stroke-width="5" stroke-linecap="butt"/>
<line x1="462.0" y1="900.0" x2="462.0" y2="960.0" stroke="#8f9db0" stroke-width="5" stroke-linecap="butt"/>
<line x1="925.0" y1="670.0" x2="925.0" y2="740.0" stroke="#8f9db0" stroke-width="5" stroke-linecap="butt"/>
<line x1="925.0" y1="900.0" x2="925.0" y2="960.0" stroke="#8f9db0" stroke-width="5" stroke-linecap="butt"/>
<line x1="958.0" y1="670.0" x2="958.0" y2="740.0" stroke="#8f9db0" stroke-width="5" stroke-linecap="butt"/>
<line x1="958.0" y1="900.0" x2="958.0" y2="960.0" stroke="#8f9db0" stroke-width="5" stroke-linecap="butt"/>
<rect x="378.0" y="615.0" width="142.0" height="36.0" fill="#b9c3cd" stroke="#1b2545" stroke-width="8"/>
<rect x="872.0" y="615.0" width="143.0" height="36.0" fill="#b9c3cd" stroke="#1b2545" stroke-width="8"/>
<rect x="340.0" y="570.0" width="720.0" height="42.0" fill="#a9b5c2" stroke="#1b2545" stroke-width="9"/>
<polygon points="697.0,358.0 1085.0,540.0 1085.0,566.0 310.0,566.0 310.0,540.0" fill="#b9c3cd" stroke="#1b2545" stroke-width="10" stroke-linejoin="round"/>
<circle cx="697.0" cy="475.0" r="45.0" fill="#7f8fb0" stroke="#1b2545" stroke-width="9"/>
<ellipse cx="325" cy="720" rx="20" ry="13" transform="rotate(35 325 720)" fill="#1b2545"/>
<polygon points="300.0,800.0 340.0,785.0 356.0,812.0 320.0,842.0" fill="#c9d3df" stroke="#1b2545" stroke-width="7" stroke-linejoin="round"/>
<polygon points="1020.0,822.0 1046.0,760.0 1076.0,802.0 1046.0,832.0" fill="#c9d3df" stroke="#1b2545" stroke-width="7" stroke-linejoin="round"/>
<circle cx="1070.0" cy="705.0" r="10.0" fill="#1b2545"/>
<circle cx="1055.0" cy="878.0" r="16.0" fill="#1b2545"/>
</g>
<g transform="translate(560,1020) scale(0.16694)" stroke-linejoin="round" stroke-linecap="round">
<rect x="130.0" y="105.0" width="155.0" height="20" rx="10.0" fill="#6a7f9e"/>
<rect x="190.0" y="160.0" width="220.0" height="20" rx="10.0" fill="#6a7f9e"/>
<rect x="130.0" y="218.0" width="125.0" height="20" rx="10.0" fill="#6a7f9e"/>
<circle cx="320.0" cy="115.0" r="9.0" fill="#6a7f9e"/>
<circle cx="450.0" cy="170.0" r="9.0" fill="#6a7f9e"/>
<rect x="1245.0" y="105.0" width="170.0" height="20" rx="10.0" fill="#6a7f9e"/>
<rect x="1445.0" y="105.0" width="45.0" height="20" rx="10.0" fill="#e8935c"/>
<rect x="1265.0" y="162.0" width="160.0" height="20" rx="10.0" fill="#6a7f9e"/>
<rect x="1320.0" y="216.0" width="170.0" height="20" rx="10.0" fill="#e8935c"/>
<rect x="1305.0" y="280.0" width="35.0" height="20" rx="10.0" fill="#6a7f9e"/>
<rect x="1375.0" y="280.0" width="115.0" height="20" rx="10.0" fill="#6a7f9e"/>
<rect x="1365.0" y="336.0" width="125.0" height="20" rx="10.0" fill="#6a7f9e"/>
<rect x="130.0" y="938.0" width="55.0" height="24" rx="12.0" fill="#6a8aa0"/>
<rect x="310.0" y="938.0" width="40.0" height="24" rx="12.0" fill="#6a8aa0"/>
<rect x="145.0" y="1003.0" width="35.0" height="24" rx="12.0" fill="#6a8aa0"/>
<rect x="205.0" y="1003.0" width="135.0" height="24" rx="12.0" fill="#6a8aa0"/>
<rect x="200.0" y="1060.0" width="40.0" height="24" rx="12.0" fill="#6a8aa0"/>
<rect x="265.0" y="1060.0" width="185.0" height="24" rx="12.0" fill="#6a8aa0"/>
<rect x="280.0" y="1118.0" width="135.0" height="24" rx="12.0" fill="#6a8aa0"/>
<rect x="440.0" y="1118.0" width="195.0" height="24" rx="12.0" fill="#6a8aa0"/>
<rect x="320.0" y="1183.0" width="130.0" height="24" rx="12.0" fill="#7a8a8e"/>
<rect x="200.0" y="1243.0" width="185.0" height="24" rx="12.0" fill="#7a8288"/>
<rect x="130.0" y="1303.0" width="35.0" height="24" rx="12.0" fill="#8a7a70"/>
<rect x="190.0" y="1303.0" width="125.0" height="24" rx="12.0" fill="#8a7a70"/>
<line x1="205.0" y1="950.0" x2="280.0" y2="950.0" stroke="#6a8aa0" stroke-width="8" stroke-linecap="butt"/>
<path d="M690,1060 L690,1255 L430,1255" fill="none" stroke="#5a6a85" stroke-width="9"/>
<path d="M780,1040 C820,1030 860,1012 882,990 C920,1060 1000,1150 1032,1212 L1082,1322 L975,1332 C950,1250 900,1140 780,1040 Z" fill="#4a52a0" stroke="#1b2545" stroke-width="16"/>
<path d="M882,990 C950,960 1050,950 1130,930 C1200,942 1280,966 1342,960 C1362,1040 1322,1132 1232,1172 C1132,1202 1030,1182 980,1120 C940,1080 900,1030 882,990 Z" fill="#4a52a0" stroke="#1b2545" stroke-width="16"/>
<path d="M940,1022 C1050,1040 1200,1020 1330,980" fill="none" stroke="#2f3878" stroke-width="7"/>
<path d="M954,1052 C1050,1070 1200,1050 1322,1010" fill="none" stroke="#2f3878" stroke-width="7"/>
<path d="M968,1082 C1050,1100 1200,1080 1314,1040" fill="none" stroke="#2f3878" stroke-width="7"/>
<path d="M982,1112 C1050,1130 1200,1110 1306,1070" fill="none" stroke="#2f3878" stroke-width="7"/>
<path d="M996,1142 C1050,1160 1200,1140 1298,1100" fill="none" stroke="#2f3878" stroke-width="7"/>
<path d="M1010,1172 C1050,1190 1200,1170 1290,1130" fill="none" stroke="#2f3878" stroke-width="7"/>
<path d="M440,880 C300,892 180,832 150,720 C100,600 150,450 300,370 C360,282 470,232 530,236 C620,170 780,150 870,190 C940,170 1010,200 1060,246 C990,270 920,330 890,420 C870,500 900,600 922,612 C850,642 780,662 720,682 C600,702 500,762 440,880 Z" fill="#ea7a3e" stroke="#1b2545" stroke-width="16"/>
<path d="M760,330 C740,420 750,500 740,580" fill="none" stroke="#f5c9a0" stroke-width="18"/>
<path d="M1060,246 C1150,220 1260,290 1292,370 C1382,420 1422,500 1402,560 C1472,640 1492,760 1442,832 C1442,902 1382,952 1322,962 C1252,972 1180,942 1130,932 C1172,850 1182,720 1130,640 C1060,602 980,612 922,612 C880,560 870,480 890,420 C920,330 990,270 1060,246 Z" fill="#4fa368" stroke="#1b2545" stroke-width="16"/>
<path d="M1030,330 C1060,340 1070,345 1050,350" fill="none" stroke="#bfe6c4" stroke-width="16"/>
<path d="M1100,640 C1115,620 1130,605 1140,600" fill="none" stroke="#bfe6c4" stroke-width="16"/>
<path d="M440,880 C480,762 600,702 720,682 C800,662 900,622 1000,632 C1080,622 1150,642 1180,702 C1200,780 1172,880 1130,932 C1050,952 950,962 882,990 C800,1040 660,1062 570,1032 C470,1002 430,952 440,880 Z" fill="url(#gBlue)" stroke="#1b2545" stroke-width="16"/>
<path d="M530,236 L530,360" fill="none" stroke="#1b2545" stroke-width="12"/>
<path d="M870,190 C800,250 740,330 722,420 L716,590" fill="none" stroke="#1b2545" stroke-width="12"/>
<path d="M555,270 C600,300 660,292 690,260" fill="none" stroke="#1b2545" stroke-width="12"/>
<path d="M220,500 C280,490 322,470 350,390" fill="none" stroke="#1b2545" stroke-width="12"/>
<path d="M210,570 C220,640 250,660 260,720 C290,760 340,772 380,760" fill="none" stroke="#1b2545" stroke-width="12"/>
<path d="M320,640 C340,700 400,730 450,742" fill="none" stroke="#1b2545" stroke-width="12"/>
<path d="M820,300 C790,400 830,500 830,580" fill="none" stroke="#1b2545" stroke-width="12"/>
<path d="M960,390 C1000,450 1080,440 1140,462" fill="none" stroke="#1b2545" stroke-width="12"/>
<path d="M1180,380 C1230,372 1270,372 1292,372" fill="none" stroke="#1b2545" stroke-width="12"/>
<path d="M1200,430 C1262,470 1292,520 1270,580 C1250,650 1282,700 1260,760" fill="none" stroke="#1b2545" stroke-width="12"/>
<path d="M1340,600 C1380,680 1380,780 1330,830 C1290,860 1240,862 1200,840" fill="none" stroke="#1b2545" stroke-width="12"/>
<path d="M990,540 L1040,520 L1010,600" fill="none" stroke="#1b2545" stroke-width="12"/>
<path d="M1130,470 L1140,560" fill="none" stroke="#1b2545" stroke-width="12"/>
<path d="M570,880 C620,830 700,832 780,800 C850,762 950,762 1030,720 C1080,700 1120,680 1150,650" fill="none" stroke="#1b2545" stroke-width="12"/>
<path d="M650,935 C720,950 800,900 880,880 C960,860 1050,870 1120,800" fill="none" stroke="#1b2545" stroke-width="12"/>
<path d="M520,360 L520,425" fill="none" stroke="#1b2545" stroke-width="10"/>
<path d="M545,380 L545,425" fill="none" stroke="#1b2545" stroke-width="10"/>
<path d="M510,580 L510,662" fill="none" stroke="#1b2545" stroke-width="10"/>
<path d="M555,580 L555,662" fill="none" stroke="#1b2545" stroke-width="10"/>
<path d="M400,455 L455,455" fill="none" stroke="#1b2545" stroke-width="10"/>
<path d="M400,520 L455,520" fill="none" stroke="#1b2545" stroke-width="10"/>
<path d="M600,455 L662,455" fill="none" stroke="#1b2545" stroke-width="10"/>
<path d="M600,520 L662,520" fill="none" stroke="#1b2545" stroke-width="10"/>
<path d="M420,400 L420,430" fill="none" stroke="#1b2545" stroke-width="10"/>
<path d="M430,610 L460,630" fill="none" stroke="#1b2545" stroke-width="10"/>
<circle cx="620.0" cy="370.0" r="9.0" fill="#1b2545"/>
<circle cx="560.0" cy="355.0" r="9.0" fill="#1b2545"/>
<circle cx="412.0" cy="580.0" r="9.0" fill="#1b2545"/>
<circle cx="640.0" cy="585.0" r="9.0" fill="#1b2545"/>
<circle cx="668.0" cy="385.0" r="9.0" fill="#1b2545"/>
<rect x="455.0" y="425.0" width="145.0" height="155.0" rx="6" fill="#b9d9e6" stroke="#1b2545" stroke-width="10"/>
<path d="M285,240 L392,382" fill="none" stroke="#6a6f8a" stroke-width="7"/>
<circle cx="285.0" cy="240.0" r="11.0" fill="#6a6f8a"/>
<path d="M1110,360 L1110,115 L1212,115" fill="none" stroke="#5a6a85" stroke-width="9"/>
</g>
<g transform="translate(1020,1020) scale(0.17797)" stroke-linejoin="miter" stroke-linecap="round">
<rect x="485.0" y="1105.0" width="133.0" height="135.0" fill="#ef8a3c" stroke="#1b2545" stroke-width="12"/>
<rect x="690.0" y="960.0" width="130.0" height="280.0" fill="#f08f3e" stroke="#1b2545" stroke-width="12"/>
<rect x="895.0" y="985.0" width="130.0" height="255.0" fill="#6db77b" stroke="#1b2545" stroke-width="12"/>
<rect x="1095.0" y="775.0" width="130.0" height="465.0" fill="#5aae6e" stroke="#1b2545" stroke-width="12"/>
<rect x="1295.0" y="575.0" width="133.0" height="665.0" fill="#4fa466" stroke="#1b2545" stroke-width="12"/>
<polygon points="135.0,1235.0 135.0,1165.0 720.0,580.0 855.0,715.0 1290.0,275.0 1195.0,200.0 1545.0,100.0 1470.0,460.0 1375.0,360.0 865.0,895.0 725.0,760.0 265.0,1235.0" fill="#4fa466" stroke="#163a30" stroke-width="16" stroke-linejoin="round"/>
<line x1="50.0" y1="1240.0" x2="1545.0" y2="1240.0" stroke="#1b2545" stroke-width="11" stroke-linecap="round"/>
<path d="M990.9,268.9 L1043.8,276.4 L1043.8,349.6 L990.9,357.1 L976.4,392.0 L1008.5,434.8 L956.8,486.5 L914.0,454.4 L879.1,468.9 L871.6,521.8 L798.4,521.8 L790.9,468.9 L756.0,454.4 L713.2,486.5 L661.5,434.8 L693.6,392.0 L679.1,357.1 L626.2,349.6 L626.2,276.4 L679.1,268.9 L693.6,234.0 L661.5,191.2 L713.2,139.5 L756.0,171.6 L790.9,157.1 L798.4,104.2 L871.6,104.2 L879.1,157.1 L914.0,171.6 L956.8,139.5 L1008.5,191.2 L976.4,234.0 Z" fill="#5aae6e" stroke="#1b2545" stroke-width="12" stroke-linejoin="round"/>
<circle cx="835.0" cy="313.0" r="86.0" fill="#f3f4f6" stroke="#1b2545" stroke-width="12"/>
<polygon points="160.0,350.0 570.0,350.0 570.0,610.0 365.0,648.0 160.0,610.0" fill="#6db77b" stroke="#1b2545" stroke-width="11" stroke-linejoin="round"/>
<polygon points="195.0,315.0 360.0,357.0 360.0,612.0 195.0,572.0" fill="#f1f5f3" stroke="#1b2545" stroke-width="11" stroke-linejoin="round"/>
<polygon points="530.0,315.0 366.0,357.0 366.0,612.0 530.0,572.0" fill="#f1f5f3" stroke="#1b2545" stroke-width="11" stroke-linejoin="round"/>
<line x1="238.0" y1="372.0" x2="318.0" y2="396.0" stroke="#2f7d4e" stroke-width="14" stroke-linecap="butt"/>
<line x1="408.0" y1="396.0" x2="492.0" y2="372.0" stroke="#2f7d4e" stroke-width="14" stroke-linecap="butt"/>
<line x1="238.0" y1="414.0" x2="318.0" y2="438.0" stroke="#2f7d4e" stroke-width="14" stroke-linecap="butt"/>
<line x1="408.0" y1="438.0" x2="492.0" y2="414.0" stroke="#2f7d4e" stroke-width="14" stroke-linecap="butt"/>
<line x1="238.0" y1="456.0" x2="318.0" y2="480.0" stroke="#2f7d4e" stroke-width="14" stroke-linecap="butt"/>
<line x1="408.0" y1="480.0" x2="492.0" y2="456.0" stroke="#2f7d4e" stroke-width="14" stroke-linecap="butt"/>
<line x1="238.0" y1="498.0" x2="318.0" y2="522.0" stroke="#2f7d4e" stroke-width="14" stroke-linecap="butt"/>
<line x1="408.0" y1="522.0" x2="492.0" y2="498.0" stroke="#2f7d4e" stroke-width="14" stroke-linecap="butt"/>
<path d="M503,250 L503,130 M445,182 L503,120 L565,182" fill="none" stroke="#6db77b" stroke-width="17" stroke-linejoin="round"/>
<polygon points="370.0,220.0 346.8,226.8 340.0,250.0 333.2,226.8 310.0,220.0 333.2,213.2 340.0,190.0 346.8,213.2" fill="#6db77b"/>
<polygon points="450.0,720.0 434.5,724.5 430.0,740.0 425.5,724.5 410.0,720.0 425.5,715.5 430.0,700.0 434.5,715.5" fill="#6db77b"/>
<polygon points="190.0,880.0 174.5,884.5 170.0,900.0 165.5,884.5 150.0,880.0 165.5,875.5 170.0,860.0 174.5,875.5" fill="#6db77b"/>
<path d="M348.1,775.5 L373.5,778.2 L373.5,811.8 L348.1,814.5 L342.9,827.2 L358.8,847.1 L335.1,870.8 L315.2,854.9 L302.5,860.1 L299.8,885.5 L266.2,885.5 L263.5,860.1 L250.8,854.9 L230.9,870.8 L207.2,847.1 L223.1,827.2 L217.9,814.5 L192.5,811.8 L192.5,778.2 L217.9,775.5 L223.1,762.8 L207.2,742.9 L230.9,719.2 L250.8,735.1 L263.5,729.9 L266.2,704.5 L299.8,704.5 L302.5,729.9 L315.2,735.1 L335.1,719.2 L358.8,742.9 L342.9,762.8 Z" fill="#6db77b"/>
<circle cx="283.0" cy="795.0" r="34.0" fill="#f3f4f6"/>
<path d="M1120,275 C1150,270 1160,300 1135,318" fill="none" stroke="#6db77b" stroke-width="14"/>
<path d="M150,960 C160,935 200,940 205,965 M160,975 C170,1000 195,995 190,975" fill="none" stroke="#6db77b" stroke-width="9"/>
</g>
<circle cx="2004.3" cy="1141.8" r="104.3" fill="url(#gI1)"/>
<g transform="translate(1880,1020) scale(0.16688)" stroke-linejoin="round" stroke-linecap="round">
<rect x="200.0" y="150.0" width="615.0" height="515.0" rx="30" fill="#2f3b52" stroke="#1b2545" stroke-width="12"/>
<path d="M200,236 L200,180 Q200,150 230,150 L785,150 Q815,150 815,180 L815,236 Z" fill="#5a87c0" stroke="#1b2545" stroke-width="11"/>
<circle cx="258.0" cy="198.0" r="18.0" fill="#e0455a"/>
<circle cx="318.0" cy="198.0" r="18.0" fill="#d8dc3a"/>
<rect x="275.0" y="300.0" width="105.0" height="20" rx="10.0" fill="#c9a58f"/>
<rect x="290.0" y="340.0" width="142.0" height="20" rx="10.0" fill="#c9a58f"/>
<rect x="430.0" y="340.0" width="110.0" height="20" rx="10.0" fill="#4a9a6e"/>
<rect x="565.0" y="340.0" width="110.0" height="20" rx="10.0" fill="#4fa868"/>
<rect x="335.0" y="388.0" width="317.0" height="20" rx="10.0" fill="#8fb4e6"/>
<rect x="362.0" y="432.0" width="183.0" height="20" rx="10.0" fill="#c9805f"/>
<rect x="578.0" y="432.0" width="160.0" height="20" rx="10.0" fill="#4fa868"/>
<rect x="350.0" y="478.0" width="245.0" height="20" rx="10.0" fill="#b9a8a0"/>
<rect x="320.0" y="526.0" width="165.0" height="20" rx="10.0" fill="#a9a888"/>
<rect x="280.0" y="570.0" width="80.0" height="20" rx="10.0" fill="#d98a5f"/>
<polygon points="965.0,480.0 975.0,552.0 1058.0,480.0" fill="#f3f5f7" stroke="#1b2545" stroke-width="13" stroke-linejoin="round"/>
<rect x="880.0" y="190.0" width="420.0" height="300.0" rx="35" fill="#f3f5f7" stroke="#1b2545" stroke-width="13"/>
<rect x="972.0" y="470.0" width="78.0" height="16.0" fill="#f3f5f7"/>
<rect x="940.0" y="245.0" width="295.0" height="26.0" fill="#8fa3a8"/>
<rect x="940.0" y="300.0" width="295.0" height="26.0" fill="#8fa3a8"/>
<rect x="940.0" y="355.0" width="295.0" height="26.0" fill="#8fa3a8"/>
<rect x="940.0" y="405.0" width="170.0" height="26.0" fill="#8fa3a8"/>
<path d="M175,905 C160,822 230,782 250,700 C270,620 330,585 400,595 C470,610 482,680 482,740 C482,800 502,850 492,892 L420,905 L330,905 Z" fill="#18244a"/>
<rect x="332.0" y="820.0" width="70.0" height="100.0" fill="#f4956a" stroke="#1b2545" stroke-width="9"/>
<path d="M150,1040 C160,960 250,900 330,890 C350,925 382,925 410,890 C470,900 512,940 527,982 L470,1012 L440,1182 L200,1182 L222,1120 L248,1074 Z" fill="#6a5ca8" stroke="#1b2545" stroke-width="11"/>
<path d="M300,742 C330,722 400,702 436,670 C452,750 432,822 390,847 C350,852 310,802 300,742 Z" fill="#f4956a" stroke="#1b2545" stroke-width="8"/>
<path d="M250,700 C270,620 330,585 400,595 C470,610 482,680 482,740 L470,800 C460,740 450,700 436,670 C400,702 330,722 300,742 L290,800 C270,780 250,740 250,700 Z" fill="#18244a"/>
<path d="M150,1040 L248,1074 L222,1122 C300,1142 380,1152 412,1162 L402,1192 L140,1192 C120,1150 130,1090 150,1040 Z" fill="#f4956a" stroke="#1b2545" stroke-width="10"/>
<path d="M690,962 C700,900 740,860 790,850 C830,840 862,840 856,862 C830,902 780,942 740,967 Z" fill="#f4956a" stroke="#1b2545" stroke-width="10"/>
<polygon points="600.0,762.0 605.0,832.0 682.0,762.0" fill="#f3f5f7" stroke="#1b2545" stroke-width="12" stroke-linejoin="round"/>
<rect x="560.0" y="560.0" width="340.0" height="210.0" rx="25" fill="#f3f5f7" stroke="#1b2545" stroke-width="12"/>
<rect x="607.0" y="752.0" width="70.0" height="14.0" fill="#f3f5f7"/>
<rect x="605.0" y="609.0" width="255.0" height="22.0" fill="#8fa3a8"/>
<rect x="605.0" y="657.0" width="255.0" height="22.0" fill="#8fa3a8"/>
<rect x="605.0" y="705.0" width="160.0" height="22.0" fill="#8fa3a8"/>
<rect x="105.0" y="1197.0" width="740.0" height="58.0" fill="#dfe4ea"/>
<line x1="105.0" y1="1200.0" x2="700.0" y2="1200.0" stroke="#1b2545" stroke-width="10" stroke-linecap="butt"/>
<line x1="105.0" y1="1256.0" x2="880.0" y2="1256.0" stroke="#1b2545" stroke-width="11" stroke-linecap="butt"/>
<polygon points="490.0,975.0 745.0,975.0 700.0,1192.0 435.0,1192.0" fill="#aab8cc" stroke="#1b2545" stroke-width="11" stroke-linejoin="round"/>
<path d="M720,1130 L850,1142 C880,1050 950,950 1080,902 L1170,897 C1260,920 1310,1000 1322,1092 L1342,1342 L965,1342 L985,1172 C930,1232 870,1252 820,1242 L720,1202 Z" fill="#4f9c5e" stroke="#1b2545" stroke-width="11"/>
<path d="M1010,710 C1040,720 1060,750 1075,790 L1090,860 L1165,870 L1172,902 L1080,907 C1050,880 1008,860 1010,710 Z" fill="#f4956a" stroke="#1b2545" stroke-width="10"/>
<path d="M975,650 C1010,590 1120,585 1190,630 C1242,690 1232,800 1170,872 L1090,862 L1075,782 L1045,722 L985,692 Z" fill="#18244a"/>
<ellipse cx="678" cy="1140" rx="52" ry="32" fill="#f4956a" stroke="#1b2545" stroke-width="10"/>
<path d="M1040,1342 L1060,1162 C1070,1100 1120,1090 1180,1090 L1290,1090 C1350,1095 1372,1140 1367,1200 L1367,1342 Z" fill="#3f5487" stroke="#1b2545" stroke-width="11"/>
</g>
<circle cx="2286.0" cy="1141.0" r="104.3" fill="url(#gI2)"/>
<g transform="translate(2160,1020) scale(0.16688)" stroke-linejoin="round" stroke-linecap="round">
<rect x="230.0" y="230.0" width="550.0" height="530.0" rx="40" fill="#34425f" stroke="#1b2545" stroke-width="14"/>
<path d="M230,322 L230,270 Q230,230 270,230 L740,230 Q780,230 780,270 L780,322 Z" fill="#5a87c0" stroke="#1b2545" stroke-width="13"/>
<circle cx="285.0" cy="282.0" r="15.0" fill="#e0523a"/>
<circle cx="352.0" cy="280.0" r="20.0" fill="#e8e03a"/>
<rect x="300.0" y="390.5" width="115.0" height="19" rx="9.5" fill="#d98a6f"/>
<rect x="325.0" y="433.5" width="258.0" height="19" rx="9.5" fill="#7fcfa0"/>
<rect x="615.0" y="433.5" width="90.0" height="19" rx="9.5" fill="#5aa882"/>
<rect x="357.0" y="478.5" width="123.0" height="19" rx="9.5" fill="#d9a79a"/>
<rect x="362.0" y="525.5" width="23.0" height="19" rx="9.5" fill="#dfe6ee"/>
<rect x="400.0" y="525.5" width="290.0" height="19" rx="9.5" fill="#7fc9b0"/>
<rect x="408.0" y="574.5" width="260.0" height="19" rx="9.5" fill="#c96a5f"/>
<rect x="400.0" y="624.5" width="148.0" height="19" rx="9.5" fill="#5a9ad6"/>
<rect x="330.0" y="672.5" width="110.0" height="19" rx="9.5" fill="#d98a6f"/>
<rect x="718.0" y="690.0" width="544.0" height="525.0" rx="40" fill="#34425f" stroke="#1b2545" stroke-width="14"/>
<path d="M718,780 L718,730 Q718,690 758,690 L1222,690 Q1262,690 1262,730 L1262,780 Z" fill="#5a87c0" stroke="#1b2545" stroke-width="13"/>
<circle cx="773.0" cy="742.0" r="15.0" fill="#9aa83a"/>
<circle cx="850.0" cy="740.0" r="20.0" fill="#e8e03a"/>
<rect x="787.0" y="855.0" width="133.0" height="20" rx="10.0" fill="#d9705f"/>
<rect x="810.0" y="902.0" width="120.0" height="20" rx="10.0" fill="#dfd8c8"/>
<rect x="925.0" y="902.0" width="127.0" height="20" rx="10.0" fill="#9fc8a0"/>
<rect x="845.0" y="950.0" width="177.0" height="20" rx="10.0" fill="#5aa882"/>
<rect x="1050.0" y="950.0" width="135.0" height="20" rx="10.0" fill="#5aa882"/>
<rect x="848.0" y="997.0" width="124.0" height="20" rx="10.0" fill="#5aa882"/>
<rect x="997.0" y="997.0" width="153.0" height="20" rx="10.0" fill="#7fc98a"/>
<rect x="840.0" y="1043.0" width="165.0" height="20" rx="10.0" fill="#d9705f"/>
<rect x="790.0" y="1088.0" width="25.0" height="20" rx="10.0" fill="#8fa8b8"/>
<rect x="838.0" y="1088.0" width="172.0" height="20" rx="10.0" fill="#5aa8b8"/>
<rect x="795.0" y="1130.0" width="30.0" height="20" rx="10.0" fill="#8f9fb0"/>
<rect x="845.0" y="1130.0" width="80.0" height="20" rx="10.0" fill="#7f8fa0"/>
<path d="M855,392 L940,392 C1040,396 1090,470 1092,598" fill="none" stroke="#1b2545" stroke-width="22"/>
<path d="M1040,552 L1092,610 L1142,552" fill="none" stroke="#1b2545" stroke-width="22"/>
<path d="M405,842 C400,960 470,1040 632,1050" fill="none" stroke="#1b2545" stroke-width="22"/>
<path d="M360,886 L405,834 L452,886" fill="none" stroke="#1b2545" stroke-width="22"/>
<path d="M596,1005 L646,1050 L596,1095" fill="none" stroke="#1b2545" stroke-width="22"/>
</g>
<circle cx="2564.8" cy="1141.0" r="103.5" fill="url(#gI3)"/>
<g transform="translate(2440,1020) scale(0.16688)" stroke-linejoin="round" stroke-linecap="round">
<line x1="130.0" y1="1157.0" x2="1365.0" y2="1157.0" stroke="#1b2545" stroke-width="12" stroke-linecap="round"/>
<circle cx="378.0" cy="905.0" r="212.0" fill="none" stroke="#1b2545" stroke-width="62"/>
<circle cx="378.0" cy="905.0" r="212.0" fill="none" stroke="#3b4f86" stroke-width="42"/>
<circle cx="1118.0" cy="905.0" r="212.0" fill="none" stroke="#1b2545" stroke-width="62"/>
<circle cx="1118.0" cy="905.0" r="212.0" fill="none" stroke="#3b4f86" stroke-width="42"/>
<line x1="575.0" y1="650.0" x2="385.0" y2="890.0" stroke="#1b2545" stroke-width="34" stroke-linecap="round"/>
<line x1="575.0" y1="650.0" x2="385.0" y2="890.0" stroke="#86c795" stroke-width="16" stroke-linecap="round"/>
<line x1="380.0" y1="880.0" x2="685.0" y2="892.0" stroke="#1b2545" stroke-width="32" stroke-linecap="round"/>
<line x1="380.0" y1="880.0" x2="685.0" y2="892.0" stroke="#86c795" stroke-width="14" stroke-linecap="round"/>
<line x1="380.0" y1="915.0" x2="685.0" y2="930.0" stroke="#1b2545" stroke-width="32" stroke-linecap="round"/>
<line x1="380.0" y1="915.0" x2="685.0" y2="930.0" stroke="#86c795" stroke-width="14" stroke-linecap="round"/>
<line x1="965.0" y1="585.0" x2="745.0" y2="890.0" stroke="#1b2545" stroke-width="40" stroke-linecap="round"/>
<line x1="965.0" y1="585.0" x2="745.0" y2="890.0" stroke="#86c795" stroke-width="22" stroke-linecap="round"/>
<line x1="615.0" y1="622.0" x2="965.0" y2="560.0" stroke="#1b2545" stroke-width="40" stroke-linecap="round"/>
<line x1="615.0" y1="622.0" x2="965.0" y2="560.0" stroke="#86c795" stroke-width="22" stroke-linecap="round"/>
<line x1="565.0" y1="530.0" x2="690.0" y2="925.0" stroke="#1b2545" stroke-width="40" stroke-linecap="round"/>
<line x1="565.0" y1="530.0" x2="690.0" y2="925.0" stroke="#86c795" stroke-width="22" stroke-linecap="round"/>
<line x1="975.0" y1="490.0" x2="1115.0" y2="920.0" stroke="#1b2545" stroke-width="40" stroke-linecap="round"/>
<line x1="975.0" y1="490.0" x2="1115.0" y2="920.0" stroke="#86c795" stroke-width="22" stroke-linecap="round"/>
<path d="M440,495 C440,460 500,462 550,470 C600,470 670,455 672,490 C670,520 600,530 555,535 C500,540 440,540 440,495 Z" fill="#3f5487" stroke="#1b2545" stroke-width="10"/>
<path d="M865,335 L985,377 C1015,392 1010,440 965,470" fill="none" stroke="#1b2545" stroke-width="42"/>
<path d="M965,470 C1010,440 1015,392 985,377" fill="none" stroke="#e8ece8" stroke-width="22"/>
<path d="M865,335 L958,367" fill="none" stroke="#3f5487" stroke-width="24"/>
<circle cx="688.0" cy="925.0" r="68.0" fill="#b9c5d3" stroke="#1b2545" stroke-width="10"/>
<circle cx="688.0" cy="925.0" r="30.0" fill="#abd9b3" stroke="#1b2545" stroke-width="9"/>
<line x1="692.0" y1="932.0" x2="745.0" y2="1020.0" stroke="#1b2545" stroke-width="26" stroke-linecap="round"/>
<line x1="692.0" y1="932.0" x2="745.0" y2="1020.0" stroke="#d0d8e0" stroke-width="11" stroke-linecap="round"/>
<rect x="720.0" y="1012.0" width="86.0" height="28.0" rx="6" fill="#c9d3df" stroke="#1b2545" stroke-width="8"/>
<line x1="375.0" y1="935.0" x2="362.0" y2="1005.0" stroke="#1b2545" stroke-width="24" stroke-linecap="round"/>
<line x1="375.0" y1="935.0" x2="362.0" y2="1005.0" stroke="#c9d3df" stroke-width="10" stroke-linecap="round"/>
<circle cx="380.0" cy="900.0" r="38.0" fill="#c9d3df" stroke="#1b2545" stroke-width="10"/>
<circle cx="380.0" cy="900.0" r="12.0" fill="#abd9b3" stroke="#1b2545" stroke-width="7"/>
<circle cx="352.0" cy="1090.0" r="96.0" fill="none" stroke="#1b2545" stroke-width="58"/>
<circle cx="352.0" cy="1090.0" r="96.0" fill="none" stroke="#3b4f86" stroke-width="40"/>
<circle cx="352.0" cy="1090.0" r="70.0" fill="#f0f0ea" stroke="#1b2545" stroke-width="9"/>
<circle cx="352.0" cy="1086.0" r="28.0" fill="#f2d58a" stroke="#1b2545" stroke-width="8"/>
</g>
<text x="80.0" y="109.5" font-size="71" fill="#1d1c1d" textLength="2581.0" lengthAdjust="spacingAndGlyphs" stroke="#1d1c1d" stroke-width="2.8" stroke-linejoin="round">The Skill Formation Paradox: Is AI Making Novice Developers Productive but Dependent?</text>
<text x="292.7" y="207.3" font-size="40.5" font-weight="bold" fill="#1d1c1d" textLength="632.3" lengthAdjust="spacingAndGlyphs">THE THREE PATHS OF AI INTEGRATION</text>
<text x="1308.8" y="207.3" font-size="40.5" font-weight="bold" fill="#1d1c1d" textLength="681.5" lengthAdjust="spacingAndGlyphs">THE PARADOX (PRODUCTIVITY VS. SKILL)</text>
<text x="2154.3" y="207.3" font-size="40.5" font-weight="bold" fill="#1d1c1d" textLength="488.7" lengthAdjust="spacingAndGlyphs">THE CROSSOVER THRESHOLD</text>
<text x="613.0" y="1000.3" font-size="40" font-weight="bold" fill="#1d1c1d" textLength="513.0" lengthAdjust="spacingAndGlyphs">THE SKILL ATROPHY GRADIENT</text>
<text x="1980.3" y="999.7" font-size="39.5" font-weight="bold" fill="#1d1c1d" textLength="594.0" lengthAdjust="spacingAndGlyphs">ACTIONABLE GUIDANCE FOR TEAMS</text>
<text x="1453.0" y="826.0" font-size="39.5" font-weight="bold" fill="#1d1c1d" textLength="396.6" lengthAdjust="spacingAndGlyphs">THE DEPENDENCY TRAP</text>
<text x="171.0" y="272.4" font-size="36" font-weight="bold" fill="#1d1c1d" textLength="105.0" lengthAdjust="spacingAndGlyphs">Control</text>
<text x="180.5" y="308.8" font-size="33.5" fill="#1d1c1d" textLength="85.0" lengthAdjust="spacingAndGlyphs" stroke="#1d1c1d" stroke-width="0.7">(No AI)</text>
<text x="496.8" y="272.4" font-size="36" font-weight="bold" fill="#1d1c1d" textLength="217.2" lengthAdjust="spacingAndGlyphs">Unrestricted AI</text>
<text x="474.0" y="308.8" font-size="33.5" fill="#1d1c1d" textLength="262.0" lengthAdjust="spacingAndGlyphs" stroke="#1d1c1d" stroke-width="0.7">(Passive Acceptance)</text>
<text x="888.0" y="272.4" font-size="36" font-weight="bold" fill="#1d1c1d" textLength="196.4" lengthAdjust="spacingAndGlyphs">Scaffolded AI</text>
<text x="861.0" y="308.8" font-size="33.5" fill="#1d1c1d" textLength="251.0" lengthAdjust="spacingAndGlyphs" stroke="#1d1c1d" stroke-width="0.7">(Active Engagement)</text>
<text x="178.6" y="699.0" font-size="31.5" font-weight="bold" fill="#1d1c1d" textLength="88.4" lengthAdjust="spacingAndGlyphs">Control</text>
<text x="180.0" y="730.0" font-size="31.5" font-weight="bold" fill="#1d1c1d" textLength="86.0" lengthAdjust="spacingAndGlyphs">(No AI)</text>
<text x="82.0" y="767.0" font-size="25" fill="#1d1c1d" textLength="283.0" lengthAdjust="spacingAndGlyphs" stroke="#1d1c1d" stroke-width="0.7">Developers engage fully with</text>
<text x="97.8" y="794.6" font-size="25" fill="#1d1c1d" textLength="249.7" lengthAdjust="spacingAndGlyphs" stroke="#1d1c1d" stroke-width="0.7">every task, serving as the</text>
<text x="91.0" y="822.0" font-size="25" fill="#1d1c1d" textLength="264.0" lengthAdjust="spacingAndGlyphs" stroke="#1d1c1d" stroke-width="0.7">benchmark for natural skill</text>
<text x="106.0" y="849.0" font-size="25" fill="#1d1c1d" textLength="233.0" lengthAdjust="spacingAndGlyphs" stroke="#1d1c1d" stroke-width="0.7">growth over 12 months.</text>
<text x="513.0" y="699.0" font-size="31.5" font-weight="bold" fill="#1d1c1d" textLength="182.0" lengthAdjust="spacingAndGlyphs">Unrestricted AI</text>
<text x="473.0" y="730.0" font-size="31.5" font-weight="bold" fill="#1d1c1d" textLength="263.0" lengthAdjust="spacingAndGlyphs">(Passive Acceptance)</text>
<text x="466.0" y="767.0" font-size="25" fill="#1d1c1d" textLength="276.0" lengthAdjust="spacingAndGlyphs" stroke="#1d1c1d" stroke-width="0.7">High AI usage with ‘passive’</text>
<text x="477.5" y="794.6" font-size="25" fill="#1d1c1d" textLength="253.1" lengthAdjust="spacingAndGlyphs" stroke="#1d1c1d" stroke-width="0.7">behavior—accepting code</text>
<text x="477.5" y="822.0" font-size="25" fill="#1d1c1d" textLength="252.5" lengthAdjust="spacingAndGlyphs" stroke="#1d1c1d" stroke-width="0.7">suggestions with minimal</text>
<text x="498.0" y="849.0" font-size="25" fill="#1d1c1d" textLength="210.5" lengthAdjust="spacingAndGlyphs" stroke="#1d1c1d" stroke-width="0.7">cognitive processing.</text>
<text x="904.6" y="699.0" font-size="31.5" font-weight="bold" fill="#1d1c1d" textLength="165.0" lengthAdjust="spacingAndGlyphs">Scaffolded AI</text>
<text x="860.0" y="730.0" font-size="31.5" font-weight="bold" fill="#1d1c1d" textLength="254.0" lengthAdjust="spacingAndGlyphs">(Active Engagement)</text>
<text x="820.0" y="767.0" font-size="25" fill="#1d1c1d" textLength="335.8" lengthAdjust="spacingAndGlyphs" stroke="#1d1c1d" stroke-width="0.7">Mandatory engagement protocols</text>
<text x="846.0" y="794.6" font-size="25" fill="#1d1c1d" textLength="283.0" lengthAdjust="spacingAndGlyphs" stroke="#1d1c1d" stroke-width="0.7">where developers must read,</text>
<text x="825.0" y="822.0" font-size="25" fill="#1d1c1d" textLength="324.0" lengthAdjust="spacingAndGlyphs" stroke="#1d1c1d" stroke-width="0.7">modify, and explain AI-generated</text>
<text x="904.6" y="849.0" font-size="25" fill="#1d1c1d" textLength="165.0" lengthAdjust="spacingAndGlyphs" stroke="#1d1c1d" stroke-width="0.7">code before use.</text>
<text x="1333.0" y="298.0" font-size="53" font-weight="bold" fill="#4ba767" textLength="128.7" lengthAdjust="spacingAndGlyphs">+15%</text>
<text x="1343.0" y="332.0" font-size="31.5" font-weight="bold" fill="#1d1c1d" textLength="109.5" lengthAdjust="spacingAndGlyphs">Observed</text>
<text x="1327.0" y="361.0" font-size="31.5" font-weight="bold" fill="#1d1c1d" textLength="141.7" lengthAdjust="spacingAndGlyphs">Productivity</text>
<text x="1757.6" y="298.0" font-size="53" font-weight="bold" fill="#ee7f42" textLength="165.0" lengthAdjust="spacingAndGlyphs">-16.4%</text>
<text x="1727.5" y="332.0" font-size="31.5" font-weight="bold" fill="#1d1c1d" textLength="224.9" lengthAdjust="spacingAndGlyphs">Skill Growth Deficit</text>
<text x="1339.0" y="605.0" font-size="24" font-weight="bold" fill="#1d1c1d" textLength="94.0" lengthAdjust="spacingAndGlyphs" stroke="#1d1c1d" stroke-width="0.5">Without AI</text>
<text x="1461.7" y="605.0" font-size="24" font-weight="bold" fill="#1d1c1d" textLength="136.3" lengthAdjust="spacingAndGlyphs" stroke="#1d1c1d" stroke-width="0.5">Unrestricted AI</text>
<text x="1319.7" y="628.0" font-size="22.5" fill="#1d1c1d" textLength="132.8" lengthAdjust="spacingAndGlyphs" stroke="#1d1c1d" stroke-width="0.7">(5.21 tasks/day)</text>
<text x="1463.0" y="628.0" font-size="22.5" fill="#1d1c1d" textLength="132.7" lengthAdjust="spacingAndGlyphs" stroke="#1d1c1d" stroke-width="0.7">(3.69 tasks/day)</text>
<text x="1721.7" y="605.0" font-size="24" font-weight="bold" fill="#1d1c1d" textLength="94.8" lengthAdjust="spacingAndGlyphs" stroke="#1d1c1d" stroke-width="0.5">Without AI</text>
<text x="1843.5" y="605.0" font-size="24" font-weight="bold" fill="#1d1c1d" textLength="137.4" lengthAdjust="spacingAndGlyphs" stroke="#1d1c1d" stroke-width="0.5">Unrestricted AI</text>
<text x="1726.0" y="628.0" font-size="22.5" fill="#1d1c1d" textLength="86.0" lengthAdjust="spacingAndGlyphs" stroke="#1d1c1d" stroke-width="0.7">(0.64 skill)</text>
<text x="1869.5" y="628.0" font-size="22.5" fill="#1d1c1d" textLength="86.5" lengthAdjust="spacingAndGlyphs" stroke="#1d1c1d" stroke-width="0.7">(0.56 skill)</text>
<text x="1303.0" y="663.7" font-size="25" fill="#1d1c1d" textLength="307.4" lengthAdjust="spacingAndGlyphs" stroke="#1d1c1d" stroke-width="0.7">Unrestricted AI users complete</text>
<text x="1300.7" y="691.0" font-size="25" fill="#1d1c1d" textLength="311.3" lengthAdjust="spacingAndGlyphs" stroke="#1d1c1d" stroke-width="0.7">3.68 tasks per day compared to</text>
<text x="1330.4" y="719.0" font-size="25" fill="#1d1c1d" textLength="252.4" lengthAdjust="spacingAndGlyphs" stroke="#1d1c1d" stroke-width="0.7">3.21 for those without AI.</text>
<text x="1668.0" y="663.7" font-size="25" fill="#1d1c1d" textLength="343.5" lengthAdjust="spacingAndGlyphs" stroke="#1d1c1d" stroke-width="0.7">Despite higher output, unrestricted</text>
<text x="1666.5" y="691.0" font-size="25" fill="#1d1c1d" textLength="345.5" lengthAdjust="spacingAndGlyphs" stroke="#1d1c1d" stroke-width="0.7">users possess significantly weaker</text>
<text x="1670.0" y="719.0" font-size="25" fill="#1d1c1d" textLength="339.0" lengthAdjust="spacingAndGlyphs" stroke="#1d1c1d" stroke-width="0.7">underlying skills (0.56 vs. 0.64) on</text>
<text x="1702.4" y="746.5" font-size="25" fill="#1d1c1d" textLength="273.6" lengthAdjust="spacingAndGlyphs" stroke="#1d1c1d" stroke-width="0.7">tool-removed assessments.</text>
<text x="1313.0" y="863.7" font-size="25" fill="#1d1c1d" textLength="677.0" lengthAdjust="spacingAndGlyphs" stroke="#1d1c1d" stroke-width="0.7">This gap creates a hidden reliance where developers appear capable</text>
<text x="1376.7" y="891.0" font-size="25" fill="#1d1c1d" textLength="548.0" lengthAdjust="spacingAndGlyphs" stroke="#1d1c1d" stroke-width="0.7">but cannot function effectively if the AI tool is removed.</text>
<text x="2574.0" y="402.0" font-size="53" font-weight="bold" fill="#4ba767" textLength="105.0" lengthAdjust="spacingAndGlyphs">0.75</text>
<text x="2573.4" y="430.0" font-size="26" font-weight="bold" fill="#1d1c1d" textLength="106.6" lengthAdjust="spacingAndGlyphs" stroke="#1d1c1d" stroke-width="0.5">Processing</text>
<text x="2577.4" y="456.0" font-size="26" font-weight="bold" fill="#1d1c1d" textLength="96.6" lengthAdjust="spacingAndGlyphs" stroke="#1d1c1d" stroke-width="0.5">Threshold</text>
<text x="2309.7" y="546.5" font-size="33" font-weight="bold" fill="#1d1c1d" textLength="123.3" lengthAdjust="spacingAndGlyphs">skill harm</text>
<text x="2255.5" y="616.5" font-size="28" fill="#1d1c1d" textLength="45.0" lengthAdjust="spacingAndGlyphs" stroke="#1d1c1d" stroke-width="0.7">0.15</text>
<text x="2110.5" y="746.0" font-size="25" fill="#1d1c1d" textLength="286.5" lengthAdjust="spacingAndGlyphs" stroke="#1d1c1d" stroke-width="0.7">Sensitivity analysis identifies</text>
<text x="2127.0" y="774.3" font-size="25" fill="#1d1c1d" textLength="254.0" lengthAdjust="spacingAndGlyphs" stroke="#1d1c1d" stroke-width="0.7">that AI only becomes net-</text>
<text x="2125.8" y="801.0" font-size="25" fill="#1d1c1d" textLength="255.7" lengthAdjust="spacingAndGlyphs" stroke="#1d1c1d" stroke-width="0.7">positive for learning when</text>
<text x="2114.0" y="829.0" font-size="25" fill="#1d1c1d" textLength="280.0" lengthAdjust="spacingAndGlyphs" stroke="#1d1c1d" stroke-width="0.7">developers maintain at least</text>
<text x="2119.6" y="857.0" font-size="25" fill="#1d1c1d" textLength="270.4" lengthAdjust="spacingAndGlyphs" stroke="#1d1c1d" stroke-width="0.7">75% of the ‘cognitive depth’</text>
<text x="2171.5" y="884.5" font-size="25" fill="#1d1c1d" textLength="164.5" lengthAdjust="spacingAndGlyphs" stroke="#1d1c1d" stroke-width="0.7">of unaided work.</text>
<text x="2422.0" y="775.0" font-size="25" fill="#1d1c1d" textLength="260.7" lengthAdjust="spacingAndGlyphs" stroke="#1d1c1d" stroke-width="0.7">Standard Diationiess code</text>
<text x="2439.0" y="802.5" font-size="25" fill="#1d1c1d" textLength="226.0" lengthAdjust="spacingAndGlyphs" stroke="#1d1c1d" stroke-width="0.7">completion results in a</text>
<text x="2430.0" y="829.4" font-size="25" fill="#1d1c1d" textLength="244.6" lengthAdjust="spacingAndGlyphs" stroke="#1d1c1d" stroke-width="0.7">processing depth of only</text>
<text x="2425.0" y="857.0" font-size="25" fill="#1d1c1d" textLength="254.0" lengthAdjust="spacingAndGlyphs" stroke="#1d1c1d" stroke-width="0.7">0.15, deep within the ‘skill</text>
<text x="2495.0" y="885.0" font-size="25" fill="#1d1c1d" textLength="114.0" lengthAdjust="spacingAndGlyphs" stroke="#1d1c1d" stroke-width="0.7">harm’ zone.</text>
<text x="2451.0" y="744.0" font-size="31" font-weight="bold" fill="#1d1c1d" textLength="204.0" lengthAdjust="spacingAndGlyphs">Default AI Usage</text>
<text x="109.3" y="1318.4" font-size="31.5" font-weight="bold" fill="#1d1c1d" textLength="240.5" lengthAdjust="spacingAndGlyphs">Highly Automatable</text>
<text x="119.6" y="1350.0" font-size="31.5" font-weight="bold" fill="#1d1c1d" textLength="220.1" lengthAdjust="spacingAndGlyphs">Skills Suffer Most</text>
<text x="73.0" y="1386.4" font-size="25" fill="#1d1c1d" textLength="312.0" lengthAdjust="spacingAndGlyphs" stroke="#1d1c1d" stroke-width="0.7">Syntactic Fluency (writing code</text>
<text x="83.5" y="1414.3" font-size="25" fill="#1d1c1d" textLength="291.3" lengthAdjust="spacingAndGlyphs" stroke="#1d1c1d" stroke-width="0.7">from scratch) saw the largest</text>
<text x="75.9" y="1441.5" font-size="25" fill="#1d1c1d" textLength="305.9" lengthAdjust="spacingAndGlyphs" stroke="#1d1c1d" stroke-width="0.7">imparment (Cohen’s d = -4.79)</text>
<text x="121.5" y="1469.0" font-size="25" fill="#1d1c1d" textLength="215.2" lengthAdjust="spacingAndGlyphs" stroke="#1d1c1d" stroke-width="0.7">under unrestricted AI.</text>
<text x="563.0" y="1318.4" font-size="31.5" font-weight="bold" fill="#1d1c1d" textLength="262.0" lengthAdjust="spacingAndGlyphs">High-Level Judgment</text>
<text x="627.0" y="1350.0" font-size="31.5" font-weight="bold" fill="#1d1c1d" textLength="134.0" lengthAdjust="spacingAndGlyphs">is Shielded</text>
<text x="488.0" y="1386.4" font-size="25" fill="#1d1c1d" textLength="411.0" lengthAdjust="spacingAndGlyphs" stroke="#1d1c1d" stroke-width="0.7">Architectural Judgment and Autonomous</text>
<text x="519.6" y="1414.3" font-size="25" fill="#1d1c1d" textLength="349.0" lengthAdjust="spacingAndGlyphs" stroke="#1d1c1d" stroke-width="0.7">Learning are less affected because</text>
<text x="508.8" y="1441.5" font-size="25" fill="#1d1c1d" textLength="369.6" lengthAdjust="spacingAndGlyphs" stroke="#1d1c1d" stroke-width="0.7">current AI tools provide less effective</text>
<text x="519.6" y="1469.0" font-size="25" fill="#1d1c1d" textLength="348.4" lengthAdjust="spacingAndGlyphs" stroke="#1d1c1d" stroke-width="0.7">assistance in these complex areas.</text>
<text x="1022.4" y="1318.4" font-size="31.5" font-weight="bold" fill="#1d1c1d" textLength="290.0" lengthAdjust="spacingAndGlyphs">The Scaffolding Rescue</text>
<text x="1003.4" y="1359.0" font-size="25" fill="#1d1c1d" textLength="328.0" lengthAdjust="spacingAndGlyphs" stroke="#1d1c1d" stroke-width="0.7">Under Scaffolded AI, Algorithmic</text>
<text x="1027.0" y="1386.4" font-size="25" fill="#1d1c1d" textLength="280.8" lengthAdjust="spacingAndGlyphs" stroke="#1d1c1d" stroke-width="0.7">Reasoning and Autonomous</text>
<text x="1000.7" y="1414.3" font-size="25" fill="#1d1c1d" textLength="333.3" lengthAdjust="spacingAndGlyphs" stroke="#1d1c1d" stroke-width="0.7">Learning actually showed madest</text>
<text x="1025.0" y="1441.5" font-size="25" fill="#1d1c1d" textLength="284.0" lengthAdjust="spacingAndGlyphs" stroke="#1d1c1d" stroke-width="0.7">positive growth compered to</text>
<text x="1078.7" y="1469.0" font-size="25" fill="#1d1c1d" textLength="176.1" lengthAdjust="spacingAndGlyphs" stroke="#1d1c1d" stroke-width="0.7">the control group.</text>
<text x="1589.8" y="1034.4" font-size="17.5" font-weight="bold" fill="#1d1c1d" textLength="87.2" lengthAdjust="spacingAndGlyphs" stroke="#1d1c1d" stroke-width="0.5">Unrestricted</text>
<text x="1626.5" y="1054.0" font-size="17.5" font-weight="bold" fill="#1d1c1d" textLength="14.0" lengthAdjust="spacingAndGlyphs" stroke="#1d1c1d" stroke-width="0.5">AI</text>
<text x="1690.0" y="1034.4" font-size="17.5" font-weight="bold" fill="#1d1c1d" textLength="76.0" lengthAdjust="spacingAndGlyphs" stroke="#1d1c1d" stroke-width="0.5">Scaffolded</text>
<text x="1721.0" y="1054.0" font-size="17.5" font-weight="bold" fill="#1d1c1d" textLength="14.0" lengthAdjust="spacingAndGlyphs" stroke="#1d1c1d" stroke-width="0.5">AI</text>
<text x="1414.0" y="1082.3" font-size="20" font-weight="bold" fill="#1d1c1d" textLength="80.5" lengthAdjust="spacingAndGlyphs" stroke="#1d1c1d" stroke-width="0.5">Syntactic</text>
<text x="1414.0" y="1105.8" font-size="20" font-weight="bold" fill="#1d1c1d" textLength="66.0" lengthAdjust="spacingAndGlyphs" stroke="#1d1c1d" stroke-width="0.5">Fluency</text>
<text x="1614.0" y="1077.7" font-size="17.5" font-weight="bold" fill="#1d1c1d" textLength="38.0" lengthAdjust="spacingAndGlyphs" stroke="#1d1c1d" stroke-width="0.5">No AI</text>
<text x="1580.4" y="1097.1" font-size="17.5" font-weight="bold" fill="#c8824f" textLength="106.1" lengthAdjust="spacingAndGlyphs" stroke="#c8824f" stroke-width="0.5">Unrestricted AI</text>
<text x="1613.8" y="1116.1" font-size="17.5" font-weight="bold" fill="#c8824f" textLength="39.8" lengthAdjust="spacingAndGlyphs" stroke="#c8824f" stroke-width="0.5">0.299</text>
<text x="1708.0" y="1077.7" font-size="17.5" font-weight="bold" fill="#1d1c1d" textLength="40.0" lengthAdjust="spacingAndGlyphs" stroke="#1d1c1d" stroke-width="0.5">0.653</text>
<text x="1708.0" y="1097.1" font-size="17.5" font-weight="bold" fill="#c8824f" textLength="40.0" lengthAdjust="spacingAndGlyphs" stroke="#c8824f" stroke-width="0.5">0.233</text>
<text x="1708.0" y="1116.1" font-size="17.5" font-weight="bold" fill="#4a9a5c" textLength="40.0" lengthAdjust="spacingAndGlyphs" stroke="#4a9a5c" stroke-width="0.5">0.688</text>
<text x="1414.0" y="1152.8" font-size="20" font-weight="bold" fill="#1d1c1d" textLength="100.8" lengthAdjust="spacingAndGlyphs" stroke="#1d1c1d" stroke-width="0.5">Algorithmic</text>
<text x="1414.0" y="1176.3" font-size="20" font-weight="bold" fill="#1d1c1d" textLength="90.0" lengthAdjust="spacingAndGlyphs" stroke="#1d1c1d" stroke-width="0.5">Reasoning</text>
<text x="1614.0" y="1147.4" font-size="17.5" font-weight="bold" fill="#1d1c1d" textLength="38.0" lengthAdjust="spacingAndGlyphs" stroke="#1d1c1d" stroke-width="0.5">No AI</text>
<text x="1580.4" y="1166.8" font-size="17.5" font-weight="bold" fill="#c8824f" textLength="106.1" lengthAdjust="spacingAndGlyphs" stroke="#c8824f" stroke-width="0.5">Unrestricted AI</text>
<text x="1613.8" y="1185.8" font-size="17.5" font-weight="bold" fill="#c8824f" textLength="39.8" lengthAdjust="spacingAndGlyphs" stroke="#c8824f" stroke-width="0.5">0.273</text>
<text x="1708.0" y="1147.4" font-size="17.5" font-weight="bold" fill="#1d1c1d" textLength="40.0" lengthAdjust="spacingAndGlyphs" stroke="#1d1c1d" stroke-width="0.5">0.643</text>
<text x="1708.0" y="1166.8" font-size="17.5" font-weight="bold" fill="#c8824f" textLength="40.0" lengthAdjust="spacingAndGlyphs" stroke="#c8824f" stroke-width="0.5">0.572</text>
<text x="1708.0" y="1185.8" font-size="17.5" font-weight="bold" fill="#4a9a5c" textLength="40.0" lengthAdjust="spacingAndGlyphs" stroke="#4a9a5c" stroke-width="0.5">0.861</text>
<text x="1414.0" y="1235.0" font-size="20" font-weight="bold" fill="#1d1c1d" textLength="92.0" lengthAdjust="spacingAndGlyphs" stroke="#1d1c1d" stroke-width="0.5">Debugging</text>
<text x="1614.0" y="1216.6" font-size="17.5" font-weight="bold" fill="#1d1c1d" textLength="38.0" lengthAdjust="spacingAndGlyphs" stroke="#1d1c1d" stroke-width="0.5">No AI</text>
<text x="1580.4" y="1236.0" font-size="17.5" font-weight="bold" fill="#c8824f" textLength="106.1" lengthAdjust="spacingAndGlyphs" stroke="#c8824f" stroke-width="0.5">Unrestricted AI</text>
<text x="1613.8" y="1255.0" font-size="17.5" font-weight="bold" fill="#c8824f" textLength="39.8" lengthAdjust="spacingAndGlyphs" stroke="#c8824f" stroke-width="0.5">0.611</text>
<text x="1708.0" y="1216.6" font-size="17.5" font-weight="bold" fill="#1d1c1d" textLength="40.0" lengthAdjust="spacingAndGlyphs" stroke="#1d1c1d" stroke-width="0.5">0.638</text>
<text x="1708.0" y="1236.0" font-size="17.5" font-weight="bold" fill="#c8824f" textLength="40.0" lengthAdjust="spacingAndGlyphs" stroke="#c8824f" stroke-width="0.5">0.411</text>
<text x="1708.0" y="1255.0" font-size="17.5" font-weight="bold" fill="#4a9a5c" textLength="40.0" lengthAdjust="spacingAndGlyphs" stroke="#4a9a5c" stroke-width="0.5">0.647</text>
<text x="1414.0" y="1292.4" font-size="20" font-weight="bold" fill="#1d1c1d" textLength="43.8" lengthAdjust="spacingAndGlyphs" stroke="#1d1c1d" stroke-width="0.5">Code</text>
<text x="1414.0" y="1316.0" font-size="20" font-weight="bold" fill="#1d1c1d" textLength="135.0" lengthAdjust="spacingAndGlyphs" stroke="#1d1c1d" stroke-width="0.5">Comprehension</text>
<text x="1614.0" y="1287.4" font-size="17.5" font-weight="bold" fill="#1d1c1d" textLength="38.0" lengthAdjust="spacingAndGlyphs" stroke="#1d1c1d" stroke-width="0.5">No AI</text>
<text x="1580.4" y="1306.8" font-size="17.5" font-weight="bold" fill="#c8824f" textLength="106.1" lengthAdjust="spacingAndGlyphs" stroke="#c8824f" stroke-width="0.5">Unrestricted AI</text>
<text x="1613.8" y="1325.8" font-size="17.5" font-weight="bold" fill="#c8824f" textLength="39.8" lengthAdjust="spacingAndGlyphs" stroke="#c8824f" stroke-width="0.5">0.654</text>
<text x="1708.0" y="1287.4" font-size="17.5" font-weight="bold" fill="#1d1c1d" textLength="40.0" lengthAdjust="spacingAndGlyphs" stroke="#1d1c1d" stroke-width="0.5">0.668</text>
<text x="1708.0" y="1306.8" font-size="17.5" font-weight="bold" fill="#c8824f" textLength="40.0" lengthAdjust="spacingAndGlyphs" stroke="#c8824f" stroke-width="0.5">0.626</text>
<text x="1708.0" y="1325.8" font-size="17.5" font-weight="bold" fill="#4a9a5c" textLength="40.0" lengthAdjust="spacingAndGlyphs" stroke="#4a9a5c" stroke-width="0.5">0.684</text>
<text x="1414.0" y="1363.0" font-size="20" font-weight="bold" fill="#1d1c1d" textLength="111.6" lengthAdjust="spacingAndGlyphs" stroke="#1d1c1d" stroke-width="0.5">Architectural</text>
<text x="1414.0" y="1386.0" font-size="20" font-weight="bold" fill="#1d1c1d" textLength="86.0" lengthAdjust="spacingAndGlyphs" stroke="#1d1c1d" stroke-width="0.5">Judgment</text>
<text x="1614.0" y="1357.0" font-size="17.5" font-weight="bold" fill="#1d1c1d" textLength="38.0" lengthAdjust="spacingAndGlyphs" stroke="#1d1c1d" stroke-width="0.5">No AI</text>
<text x="1580.4" y="1376.4" font-size="17.5" font-weight="bold" fill="#c8824f" textLength="106.1" lengthAdjust="spacingAndGlyphs" stroke="#c8824f" stroke-width="0.5">Unrestricted AI</text>
<text x="1613.8" y="1395.4" font-size="17.5" font-weight="bold" fill="#c8824f" textLength="39.8" lengthAdjust="spacingAndGlyphs" stroke="#c8824f" stroke-width="0.5">0.642</text>
<text x="1708.0" y="1357.0" font-size="17.5" font-weight="bold" fill="#1d1c1d" textLength="40.0" lengthAdjust="spacingAndGlyphs" stroke="#1d1c1d" stroke-width="0.5">0.988</text>
<text x="1708.0" y="1376.4" font-size="17.5" font-weight="bold" fill="#4a9a5c" textLength="40.0" lengthAdjust="spacingAndGlyphs" stroke="#4a9a5c" stroke-width="0.5">0.055</text>
<text x="1708.0" y="1395.4" font-size="17.5" font-weight="bold" fill="#4a9a5c" textLength="40.0" lengthAdjust="spacingAndGlyphs" stroke="#4a9a5c" stroke-width="0.5">0.061</text>
<text x="1414.0" y="1433.0" font-size="20" font-weight="bold" fill="#1d1c1d" textLength="109.4" lengthAdjust="spacingAndGlyphs" stroke="#1d1c1d" stroke-width="0.5">Autonomous</text>
<text x="1414.0" y="1456.4" font-size="20" font-weight="bold" fill="#1d1c1d" textLength="75.0" lengthAdjust="spacingAndGlyphs" stroke="#1d1c1d" stroke-width="0.5">Learning</text>
<text x="1614.0" y="1426.0" font-size="17.5" font-weight="bold" fill="#1d1c1d" textLength="38.0" lengthAdjust="spacingAndGlyphs" stroke="#1d1c1d" stroke-width="0.5">No AI</text>
<text x="1580.4" y="1445.4" font-size="17.5" font-weight="bold" fill="#c8824f" textLength="106.1" lengthAdjust="spacingAndGlyphs" stroke="#c8824f" stroke-width="0.5">Unrestricted AI</text>
<text x="1613.8" y="1464.4" font-size="17.5" font-weight="bold" fill="#c8824f" textLength="39.8" lengthAdjust="spacingAndGlyphs" stroke="#c8824f" stroke-width="0.5">0.541</text>
<text x="1708.0" y="1426.0" font-size="17.5" font-weight="bold" fill="#1d1c1d" textLength="40.0" lengthAdjust="spacingAndGlyphs" stroke="#1d1c1d" stroke-width="0.5">0.960</text>
<text x="1708.0" y="1445.4" font-size="17.5" font-weight="bold" fill="#c8824f" textLength="40.0" lengthAdjust="spacingAndGlyphs" stroke="#c8824f" stroke-width="0.5">0.037</text>
<text x="1708.0" y="1464.4" font-size="17.5" font-weight="bold" fill="#4a9a5c" textLength="40.0" lengthAdjust="spacingAndGlyphs" stroke="#4a9a5c" stroke-width="0.5">0.587</text>
<text x="1937.6" y="1290.9" font-size="31.5" font-weight="bold" fill="#1d1c1d" textLength="130.2" lengthAdjust="spacingAndGlyphs">Implement</text>
<text x="1858.0" y="1323.4" font-size="31.5" font-weight="bold" fill="#1d1c1d" textLength="289.4" lengthAdjust="spacingAndGlyphs">'Explain-Before-Accept'</text>
<text x="1910.4" y="1359.6" font-size="25" fill="#1d1c1d" textLength="183.5" lengthAdjust="spacingAndGlyphs" stroke="#1d1c1d" stroke-width="0.7">Require novices to</text>
<text x="1892.4" y="1387.5" font-size="25" fill="#1d1c1d" textLength="219.6" lengthAdjust="spacingAndGlyphs" stroke="#1d1c1d" stroke-width="0.7">articulate why AI code</text>
<text x="1894.9" y="1414.6" font-size="25" fill="#1d1c1d" textLength="214.5" lengthAdjust="spacingAndGlyphs" stroke="#1d1c1d" stroke-width="0.7">works before they are</text>
<text x="1885.0" y="1441.8" font-size="25" fill="#1d1c1d" textLength="233.5" lengthAdjust="spacingAndGlyphs" stroke="#1d1c1d" stroke-width="0.7">allowed to merge it into</text>
<text x="1955.7" y="1468.9" font-size="25" fill="#1d1c1d" textLength="93.0" lengthAdjust="spacingAndGlyphs" stroke="#1d1c1d" stroke-width="0.7">a project.</text>
<text x="2216.2" y="1290.9" font-size="31.5" font-weight="bold" fill="#1d1c1d" textLength="137.5" lengthAdjust="spacingAndGlyphs">Interlcaved</text>
<text x="2235.0" y="1323.4" font-size="31.5" font-weight="bold" fill="#1d1c1d" textLength="100.6" lengthAdjust="spacingAndGlyphs">Practice</text>
<text x="2175.6" y="1359.6" font-size="25" fill="#1d1c1d" textLength="218.9" lengthAdjust="spacingAndGlyphs" stroke="#1d1c1d" stroke-width="0.7">Periodicaily disable AI</text>
<text x="2192.6" y="1387.5" font-size="25" fill="#1d1c1d" textLength="185.3" lengthAdjust="spacingAndGlyphs" stroke="#1d1c1d" stroke-width="0.7">assistants to force</text>
<text x="2172.8" y="1414.6" font-size="25" fill="#1d1c1d" textLength="225.0" lengthAdjust="spacingAndGlyphs" stroke="#1d1c1d" stroke-width="0.7">‘unscaffolded’ practice</text>
<text x="2177.5" y="1441.8" font-size="25" fill="#1d1c1d" textLength="216.0" lengthAdjust="spacingAndGlyphs" stroke="#1d1c1d" stroke-width="0.7">and ensure core skille</text>
<text x="2216.9" y="1468.9" font-size="25" fill="#1d1c1d" textLength="136.1" lengthAdjust="spacingAndGlyphs" stroke="#1d1c1d" stroke-width="0.7">remain sharp.</text>
<text x="2491.0" y="1290.9" font-size="31.5" font-weight="bold" fill="#1d1c1d" textLength="146.0" lengthAdjust="spacingAndGlyphs">Progressive</text>
<text x="2496.6" y="1323.4" font-size="31.5" font-weight="bold" fill="#1d1c1d" textLength="135.6" lengthAdjust="spacingAndGlyphs">Withdrawal</text>
<text x="2450.2" y="1359.6" font-size="25" fill="#1d1c1d" textLength="228.0" lengthAdjust="spacingAndGlyphs" stroke="#1d1c1d" stroke-width="0.7">Like training wheels, AI</text>
<text x="2459.7" y="1387.5" font-size="25" fill="#1d1c1d" textLength="209.3" lengthAdjust="spacingAndGlyphs" stroke="#1d1c1d" stroke-width="0.7">assistance should be</text>
<text x="2452.0" y="1414.6" font-size="25" fill="#1d1c1d" textLength="223.0" lengthAdjust="spacingAndGlyphs" stroke="#1d1c1d" stroke-width="0.7">gradually redused as a</text>
<text x="2459.7" y="1441.8" font-size="25" fill="#1d1c1d" textLength="208.7" lengthAdjust="spacingAndGlyphs" stroke="#1d1c1d" stroke-width="0.7">developer’s skill level</text>
<text x="2513.6" y="1468.9" font-size="25" fill="#1d1c1d" textLength="99.8" lengthAdjust="spacingAndGlyphs" stroke="#1d1c1d" stroke-width="0.7">increases.</text>
</svg>
</body></html>
